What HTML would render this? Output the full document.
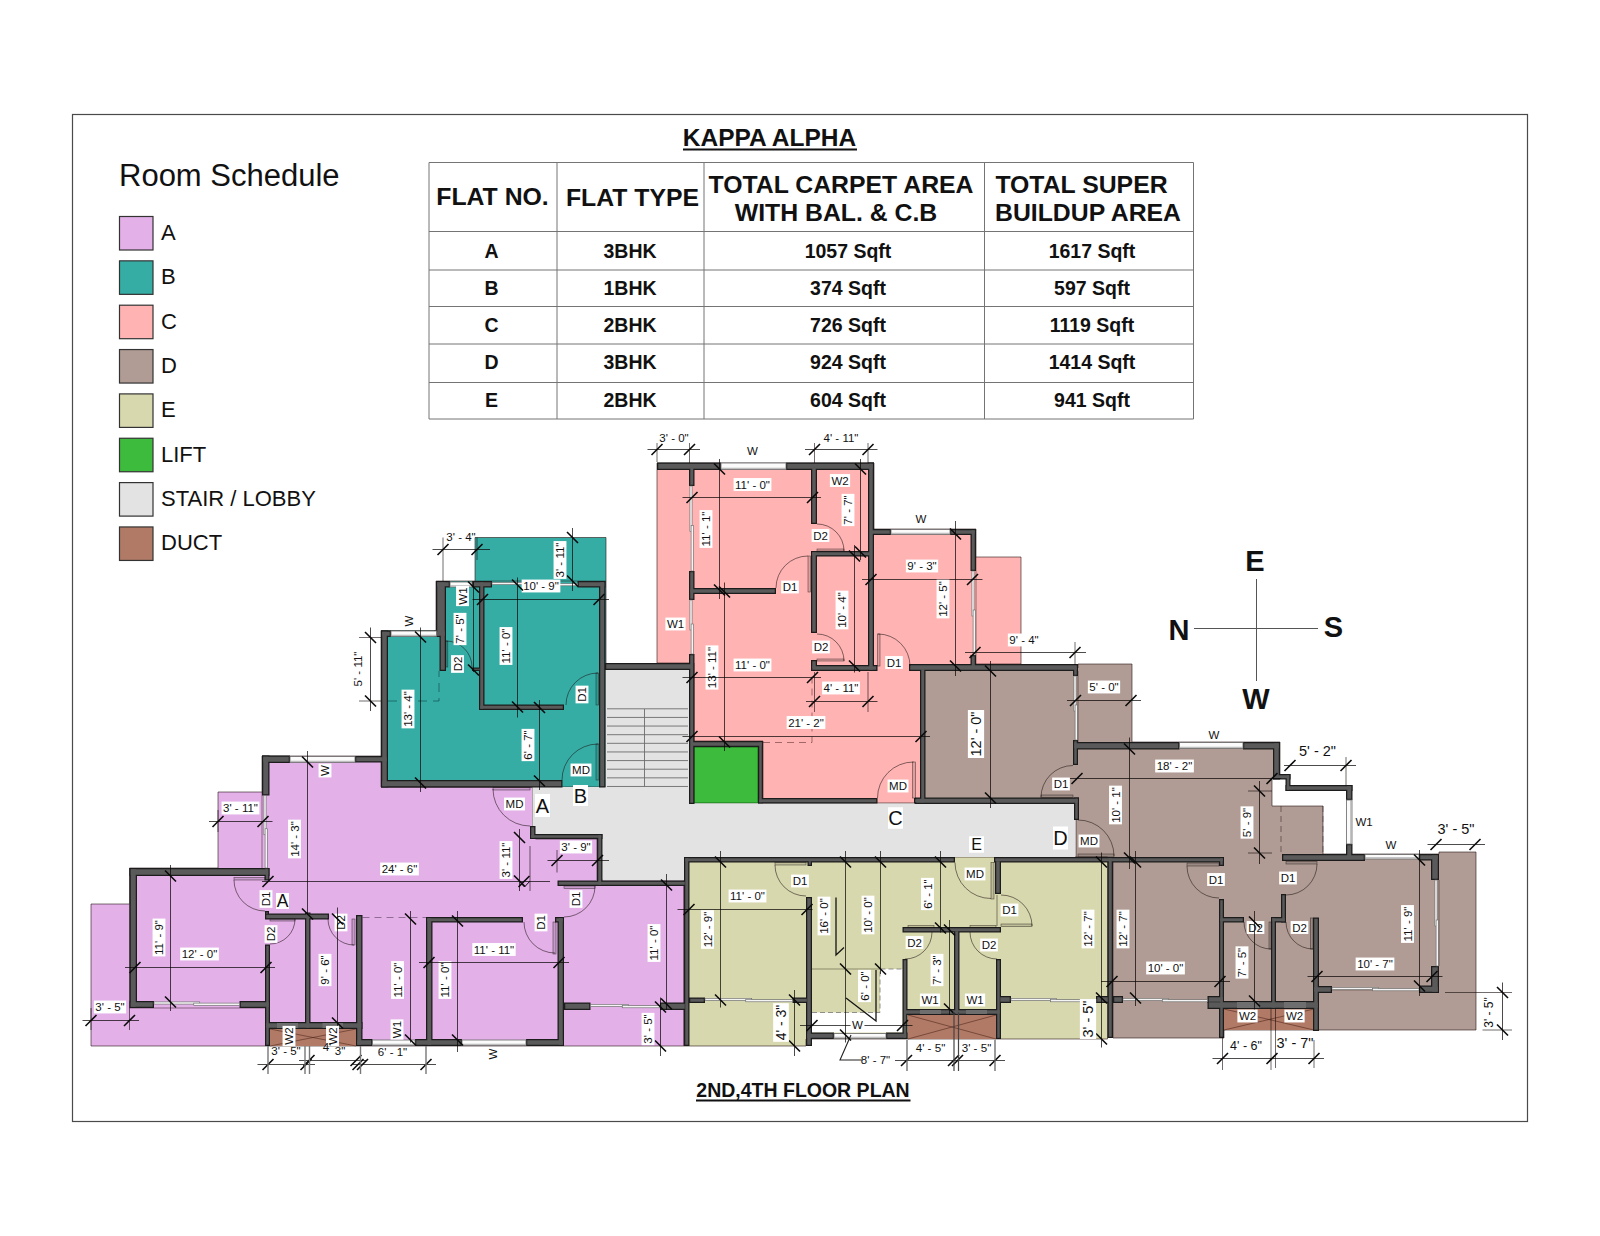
<!DOCTYPE html>
<html><head><meta charset="utf-8"><title>KAPPA ALPHA - 2ND,4TH FLOOR PLAN</title>
<style>
html,body{margin:0;padding:0;background:#fff}
body{width:1600px;height:1236px;overflow:hidden}
svg{display:block;font-family:"Liberation Sans",Arial,sans-serif}
</style></head><body>
<svg width="1600" height="1236" viewBox="0 0 1600 1236">
<rect x="72.5" y="114.5" width="1455" height="1007" fill="none" stroke="#4a4a4a" stroke-width="1.2"/>
<text x="119" y="186.1" font-size="31" text-anchor="start" fill="#111">Room Schedule</text>
<rect x="119.5" y="216.5" width="33.5" height="33.5" fill="#E3B0E8" stroke="#333" stroke-width="1.2"/>
<text x="161" y="239.88" font-size="22" text-anchor="start" fill="#111">A</text>
<rect x="119.5" y="260.85" width="33.5" height="33.5" fill="#35ADA5" stroke="#333" stroke-width="1.2"/>
<text x="161" y="284.23" font-size="22" text-anchor="start" fill="#111">B</text>
<rect x="119.5" y="305.2" width="33.5" height="33.5" fill="#FFB3B3" stroke="#333" stroke-width="1.2"/>
<text x="161" y="328.58" font-size="22" text-anchor="start" fill="#111">C</text>
<rect x="119.5" y="349.55" width="33.5" height="33.5" fill="#B09C94" stroke="#333" stroke-width="1.2"/>
<text x="161" y="372.93" font-size="22" text-anchor="start" fill="#111">D</text>
<rect x="119.5" y="393.9" width="33.5" height="33.5" fill="#D8D8AE" stroke="#333" stroke-width="1.2"/>
<text x="161" y="417.28" font-size="22" text-anchor="start" fill="#111">E</text>
<rect x="119.5" y="438.25" width="33.5" height="33.5" fill="#3DBB3D" stroke="#333" stroke-width="1.2"/>
<text x="161" y="461.63" font-size="22" text-anchor="start" fill="#111">LIFT</text>
<rect x="119.5" y="482.6" width="33.5" height="33.5" fill="#E3E3E3" stroke="#333" stroke-width="1.2"/>
<text x="161" y="505.98" font-size="22" text-anchor="start" fill="#111">STAIR / LOBBY</text>
<rect x="119.5" y="526.95" width="33.5" height="33.5" fill="#B07A66" stroke="#333" stroke-width="1.2"/>
<text x="161" y="550.33" font-size="22" text-anchor="start" fill="#111">DUCT</text>
<text x="769.5" y="146.27" font-size="24.5" text-anchor="middle" font-weight="bold" fill="#111">KAPPA ALPHA</text>
<line x1="683" y1="149.5" x2="857" y2="149.5" stroke="#111" stroke-width="2"/>
<text x="803" y="1096.98" font-size="19.5" text-anchor="middle" font-weight="bold" fill="#111">2ND,4TH FLOOR PLAN</text>
<line x1="696" y1="1100.5" x2="910.5" y2="1100.5" stroke="#111" stroke-width="1.8"/>
<line x1="429" y1="162.5" x2="429" y2="419" stroke="#747474" stroke-width="1"/>
<line x1="557" y1="162.5" x2="557" y2="419" stroke="#747474" stroke-width="1"/>
<line x1="704" y1="162.5" x2="704" y2="419" stroke="#747474" stroke-width="1"/>
<line x1="984.5" y1="162.5" x2="984.5" y2="419" stroke="#747474" stroke-width="1"/>
<line x1="1193.5" y1="162.5" x2="1193.5" y2="419" stroke="#747474" stroke-width="1"/>
<line x1="429" y1="162.5" x2="1193.5" y2="162.5" stroke="#747474" stroke-width="1"/>
<line x1="429" y1="231.5" x2="1193.5" y2="231.5" stroke="#747474" stroke-width="1"/>
<line x1="429" y1="270" x2="1193.5" y2="270" stroke="#747474" stroke-width="1"/>
<line x1="429" y1="306.5" x2="1193.5" y2="306.5" stroke="#747474" stroke-width="1"/>
<line x1="429" y1="344" x2="1193.5" y2="344" stroke="#747474" stroke-width="1"/>
<line x1="429" y1="382.5" x2="1193.5" y2="382.5" stroke="#747474" stroke-width="1"/>
<line x1="429" y1="419" x2="1193.5" y2="419" stroke="#747474" stroke-width="1"/>
<text x="492.5" y="205.38" font-size="24.8" text-anchor="middle" font-weight="bold" fill="#111">FLAT NO.</text>
<text x="632.5" y="205.88" font-size="24.8" text-anchor="middle" font-weight="bold" fill="#111">FLAT TYPE</text>
<text x="841" y="192.88" font-size="24.8" text-anchor="middle" font-weight="bold" fill="#111">TOTAL CARPET AREA</text>
<text x="836" y="221.38" font-size="24.8" text-anchor="middle" font-weight="bold" fill="#111">WITH BAL. &amp; C.B</text>
<text x="1081.5" y="192.88" font-size="24.8" text-anchor="middle" font-weight="bold" fill="#111">TOTAL SUPER</text>
<text x="1088" y="221.38" font-size="24.8" text-anchor="middle" font-weight="bold" fill="#111">BUILDUP AREA</text>
<text x="491.5" y="257.98" font-size="19.5" text-anchor="middle" font-weight="bold" fill="#111">A</text>
<text x="630" y="257.98" font-size="19.5" text-anchor="middle" font-weight="bold" fill="#111">3BHK</text>
<text x="848" y="257.98" font-size="19.5" text-anchor="middle" font-weight="bold" fill="#111">1057 Sqft</text>
<text x="1092" y="257.98" font-size="19.5" text-anchor="middle" font-weight="bold" fill="#111">1617 Sqft</text>
<text x="491.5" y="294.98" font-size="19.5" text-anchor="middle" font-weight="bold" fill="#111">B</text>
<text x="630" y="294.98" font-size="19.5" text-anchor="middle" font-weight="bold" fill="#111">1BHK</text>
<text x="848" y="294.98" font-size="19.5" text-anchor="middle" font-weight="bold" fill="#111">374 Sqft</text>
<text x="1092" y="294.98" font-size="19.5" text-anchor="middle" font-weight="bold" fill="#111">597 Sqft</text>
<text x="491.5" y="331.98" font-size="19.5" text-anchor="middle" font-weight="bold" fill="#111">C</text>
<text x="630" y="331.98" font-size="19.5" text-anchor="middle" font-weight="bold" fill="#111">2BHK</text>
<text x="848" y="331.98" font-size="19.5" text-anchor="middle" font-weight="bold" fill="#111">726 Sqft</text>
<text x="1092" y="331.98" font-size="19.5" text-anchor="middle" font-weight="bold" fill="#111">1119 Sqft</text>
<text x="491.5" y="369.48" font-size="19.5" text-anchor="middle" font-weight="bold" fill="#111">D</text>
<text x="630" y="369.48" font-size="19.5" text-anchor="middle" font-weight="bold" fill="#111">3BHK</text>
<text x="848" y="369.48" font-size="19.5" text-anchor="middle" font-weight="bold" fill="#111">924 Sqft</text>
<text x="1092" y="369.48" font-size="19.5" text-anchor="middle" font-weight="bold" fill="#111">1414 Sqft</text>
<text x="491.5" y="406.98" font-size="19.5" text-anchor="middle" font-weight="bold" fill="#111">E</text>
<text x="630" y="406.98" font-size="19.5" text-anchor="middle" font-weight="bold" fill="#111">2BHK</text>
<text x="848" y="406.98" font-size="19.5" text-anchor="middle" font-weight="bold" fill="#111">604 Sqft</text>
<text x="1092" y="406.98" font-size="19.5" text-anchor="middle" font-weight="bold" fill="#111">941 Sqft</text>
<line x1="1256.5" y1="579" x2="1256.5" y2="681" stroke="#555" stroke-width="1"/>
<line x1="1194" y1="628.5" x2="1318" y2="628.5" stroke="#555" stroke-width="1"/>
<text x="1255" y="571.38" font-size="29" text-anchor="middle" font-weight="bold" fill="#111">E</text>
<text x="1179" y="639.88" font-size="29" text-anchor="middle" font-weight="bold" fill="#111">N</text>
<text x="1256" y="709.38" font-size="29" text-anchor="middle" font-weight="bold" fill="#111">W</text>
<text x="1333.5" y="637.38" font-size="29" text-anchor="middle" font-weight="bold" fill="#111">S</text>
<polygon points="262,756 388,756 388,787 532.5,787 532.5,826 535.5,839 597,839 597,880 684,880 684,1046 91,1046 91,904 129.5,904 129.5,868 218,868 218,792 262,792" fill="#E3B0E8" stroke="rgba(40,20,20,0.6)" stroke-width="1"/>
<polygon points="475,537.5 606,537.5 606,787 381,787 381,630.5 436,630.5 436,581 475,581" fill="#35ADA5" stroke="rgba(40,20,20,0.6)" stroke-width="1"/>
<polygon points="657,463 874,463 874,529 976,529 976,557 1021,557 1021,664 976,664 976,668 921,668 921,803 763,803 763,741 694,741 694,663 657,663" fill="#FFB3B3" stroke="rgba(40,20,20,0.6)" stroke-width="1"/>
<polygon points="921,668 1078,668 1078,664 1132,664 1132,742 1280,742 1280,778 1272,778 1272,806 1323,806 1323,854 1439,854 1439,852 1476,852 1476,1030 1224,1030 1224,1038 1113,1038 1113,862 1076,862 1076,800 921,800" fill="#B09C94" stroke="rgba(40,20,20,0.6)" stroke-width="1"/>
<polygon points="684,857 1107.5,857 1107.5,1039 806,1039 806,1046 684,1046" fill="#D8D8AE" stroke="rgba(40,20,20,0.6)" stroke-width="1"/>
<polygon points="605.5,668 689,668 689,804 1075,804 1075,857 684,857 684,880.5 602.5,880.5 602.5,836 532.5,836 532.5,787 605.5,787" fill="#E3E3E3" stroke="none" stroke-width="1"/>
<rect x="694" y="747" width="64" height="56" fill="#3DBB3D" stroke="rgba(0,60,0,0.6)" stroke-width="1"/>
<rect x="270" y="1029" width="86" height="17" fill="#B07A66" stroke="none" stroke-width="1"/>
<rect x="908" y="1015" width="88" height="24" fill="#B07A66" stroke="none" stroke-width="1"/>
<rect x="1224" y="1009" width="90" height="21" fill="#B07A66" stroke="none" stroke-width="1"/>
<line x1="270" y1="1029" x2="356" y2="1046" stroke="rgba(60,20,10,0.6)" stroke-width="0.8"/>
<line x1="270" y1="1046" x2="356" y2="1029" stroke="rgba(60,20,10,0.6)" stroke-width="0.8"/>
<line x1="908" y1="1015" x2="996" y2="1039" stroke="rgba(60,20,10,0.6)" stroke-width="0.8"/>
<line x1="908" y1="1039" x2="996" y2="1015" stroke="rgba(60,20,10,0.6)" stroke-width="0.8"/>
<line x1="1224" y1="1009" x2="1314" y2="1030" stroke="rgba(60,20,10,0.6)" stroke-width="0.8"/>
<line x1="1224" y1="1030" x2="1314" y2="1009" stroke="rgba(60,20,10,0.6)" stroke-width="0.8"/>
<rect x="812" y="1012.5" width="90.5" height="20" fill="#fff" stroke="none" stroke-width="1"/>
<rect x="880" y="969" width="22.5" height="44" fill="#fff" stroke="none" stroke-width="1"/>
<polyline points="812,1012.5 880,1012.5 880,969 902.5,969" fill="none" stroke="#777" stroke-width="0.8" stroke-dasharray="5 3"/>
<line x1="812" y1="969" x2="880" y2="969" stroke="rgba(40,40,20,0.55)" stroke-width="0.8"/>
<line x1="1281" y1="806" x2="1281" y2="854" stroke="rgba(40,20,20,0.6)" stroke-width="0.8" stroke-dasharray="6 4"/>
<line x1="1323" y1="806" x2="1323" y2="854" stroke="rgba(40,20,20,0.5)" stroke-width="0.8" stroke-dasharray="6 4"/>
<line x1="475" y1="581" x2="606" y2="581" stroke="rgba(40,20,20,0.6)" stroke-width="0.8"/>
<line x1="976" y1="557" x2="976" y2="664" stroke="rgba(40,20,20,0.6)" stroke-width="0.8"/>
<line x1="1078" y1="671" x2="1078" y2="742" stroke="rgba(40,20,20,0.6)" stroke-width="0.8"/>
<line x1="1439" y1="880" x2="1439" y2="966" stroke="rgba(40,20,20,0.6)" stroke-width="0.8"/>
<line x1="262" y1="792" x2="262" y2="868" stroke="rgba(40,20,20,0.6)" stroke-width="0.8"/>
<line x1="129.5" y1="904" x2="129.5" y2="1008" stroke="rgba(40,20,20,0.6)" stroke-width="0.8"/>
<line x1="129.5" y1="1008" x2="265" y2="1008" stroke="rgba(40,20,20,0.6)" stroke-width="0.8"/>
<line x1="564" y1="1006" x2="684" y2="1006" stroke="rgba(40,20,20,0.6)" stroke-width="0.6"/>
<line x1="689" y1="1000" x2="806" y2="1000" stroke="rgba(40,20,20,0.6)" stroke-width="0.6"/>
<line x1="1001" y1="1000" x2="1107.5" y2="1000" stroke="rgba(40,20,20,0.6)" stroke-width="0.6"/>
<line x1="1113" y1="1000" x2="1219" y2="1000" stroke="rgba(40,20,20,0.6)" stroke-width="0.6"/>
<line x1="1319" y1="990" x2="1431" y2="990" stroke="rgba(40,20,20,0.6)" stroke-width="0.6"/>
<line x1="607" y1="708.8" x2="688" y2="708.8" stroke="#6c6c6c" stroke-width="0.9"/>
<line x1="607" y1="717.43" x2="688" y2="717.43" stroke="#6c6c6c" stroke-width="0.9"/>
<line x1="607" y1="726.06" x2="688" y2="726.06" stroke="#6c6c6c" stroke-width="0.9"/>
<line x1="607" y1="734.69" x2="688" y2="734.69" stroke="#6c6c6c" stroke-width="0.9"/>
<line x1="607" y1="743.32" x2="688" y2="743.32" stroke="#6c6c6c" stroke-width="0.9"/>
<line x1="607" y1="751.95" x2="688" y2="751.95" stroke="#6c6c6c" stroke-width="0.9"/>
<line x1="607" y1="760.58" x2="688" y2="760.58" stroke="#6c6c6c" stroke-width="0.9"/>
<line x1="607" y1="769.21" x2="688" y2="769.21" stroke="#6c6c6c" stroke-width="0.9"/>
<line x1="607" y1="777.84" x2="688" y2="777.84" stroke="#6c6c6c" stroke-width="0.9"/>
<line x1="607" y1="786.47" x2="688" y2="786.47" stroke="#6c6c6c" stroke-width="0.9"/>
<line x1="644.5" y1="709" x2="644.5" y2="786.4" stroke="#6c6c6c" stroke-width="0.9"/>
<rect x="657" y="462.5" width="64" height="7.5" fill="#1c1c1c" stroke="none" stroke-width="1"/>
<rect x="786" y="462.5" width="88" height="7.5" fill="#1c1c1c" stroke="none" stroke-width="1"/>
<rect x="868" y="462.5" width="6" height="208.5" fill="#1c1c1c" stroke="none" stroke-width="1"/>
<rect x="689" y="466" width="5.5" height="20" fill="#1c1c1c" stroke="none" stroke-width="1"/>
<rect x="811" y="466" width="6" height="58" fill="#1c1c1c" stroke="none" stroke-width="1"/>
<rect x="811" y="551" width="61" height="5.5" fill="#1c1c1c" stroke="none" stroke-width="1"/>
<rect x="811" y="551" width="6" height="82" fill="#1c1c1c" stroke="none" stroke-width="1"/>
<rect x="689" y="588" width="87" height="6" fill="#1c1c1c" stroke="none" stroke-width="1"/>
<rect x="689" y="571" width="5.5" height="29" fill="#1c1c1c" stroke="none" stroke-width="1"/>
<rect x="811" y="665" width="66.5" height="6" fill="#1c1c1c" stroke="none" stroke-width="1"/>
<rect x="811" y="660" width="6" height="9" fill="#1c1c1c" stroke="none" stroke-width="1"/>
<rect x="689" y="654" width="5.5" height="150" fill="#1c1c1c" stroke="none" stroke-width="1"/>
<rect x="870" y="529" width="21" height="6" fill="#1c1c1c" stroke="none" stroke-width="1"/>
<rect x="950" y="529" width="26" height="6" fill="#1c1c1c" stroke="none" stroke-width="1"/>
<rect x="970.5" y="529" width="5.5" height="42" fill="#1c1c1c" stroke="none" stroke-width="1"/>
<rect x="970.5" y="655" width="5.5" height="13" fill="#1c1c1c" stroke="none" stroke-width="1"/>
<rect x="909" y="664" width="169" height="7" fill="#1c1c1c" stroke="none" stroke-width="1"/>
<rect x="1073" y="665" width="5" height="11" fill="#1c1c1c" stroke="none" stroke-width="1"/>
<rect x="690" y="741" width="73" height="6" fill="#1c1c1c" stroke="none" stroke-width="1"/>
<rect x="758" y="741" width="5" height="62.5" fill="#1c1c1c" stroke="none" stroke-width="1"/>
<rect x="758" y="798" width="119.5" height="5.5" fill="#1c1c1c" stroke="none" stroke-width="1"/>
<rect x="914" y="798" width="11" height="5.5" fill="#1c1c1c" stroke="none" stroke-width="1"/>
<rect x="605" y="663" width="89" height="7" fill="#1c1c1c" stroke="none" stroke-width="1"/>
<rect x="920" y="668" width="5.5" height="135.5" fill="#1c1c1c" stroke="none" stroke-width="1"/>
<rect x="915" y="797.5" width="164" height="6.5" fill="#1c1c1c" stroke="none" stroke-width="1"/>
<rect x="1074" y="797.5" width="5" height="22.5" fill="#1c1c1c" stroke="none" stroke-width="1"/>
<rect x="1073" y="742" width="106.5" height="7.5" fill="#1c1c1c" stroke="none" stroke-width="1"/>
<rect x="1073" y="740" width="5" height="25" fill="#1c1c1c" stroke="none" stroke-width="1"/>
<rect x="1243" y="742" width="37" height="7.5" fill="#1c1c1c" stroke="none" stroke-width="1"/>
<rect x="1273" y="742" width="7" height="37.5" fill="#1c1c1c" stroke="none" stroke-width="1"/>
<rect x="1273" y="774" width="17.5" height="5.5" fill="#1c1c1c" stroke="none" stroke-width="1"/>
<rect x="1285.5" y="774" width="5" height="17" fill="#1c1c1c" stroke="none" stroke-width="1"/>
<rect x="1285.5" y="785" width="67" height="6" fill="#1c1c1c" stroke="none" stroke-width="1"/>
<rect x="1346" y="785" width="6.5" height="15" fill="#1c1c1c" stroke="none" stroke-width="1"/>
<rect x="1346" y="844" width="6.5" height="14" fill="#1c1c1c" stroke="none" stroke-width="1"/>
<rect x="1282" y="854" width="83" height="7" fill="#1c1c1c" stroke="none" stroke-width="1"/>
<rect x="1419" y="854" width="20" height="6.5" fill="#1c1c1c" stroke="none" stroke-width="1"/>
<rect x="1431" y="854" width="8" height="26" fill="#1c1c1c" stroke="none" stroke-width="1"/>
<rect x="1431" y="966" width="8" height="27" fill="#1c1c1c" stroke="none" stroke-width="1"/>
<rect x="1419" y="985.5" width="20" height="7.5" fill="#1c1c1c" stroke="none" stroke-width="1"/>
<rect x="1313" y="986" width="19" height="7" fill="#1c1c1c" stroke="none" stroke-width="1"/>
<rect x="1313" y="917.5" width="6" height="113.5" fill="#1c1c1c" stroke="none" stroke-width="1"/>
<rect x="684" y="857" width="271" height="5.5" fill="#1c1c1c" stroke="none" stroke-width="1"/>
<rect x="994" y="857" width="230" height="5.5" fill="#1c1c1c" stroke="none" stroke-width="1"/>
<rect x="1219" y="857" width="5" height="9" fill="#1c1c1c" stroke="none" stroke-width="1"/>
<rect x="1107.5" y="857" width="5.5" height="181" fill="#1c1c1c" stroke="none" stroke-width="1"/>
<rect x="1113" y="996" width="10" height="7" fill="#1c1c1c" stroke="none" stroke-width="1"/>
<rect x="1207.5" y="996" width="16.5" height="7" fill="#1c1c1c" stroke="none" stroke-width="1"/>
<rect x="1219" y="899" width="5" height="139" fill="#1c1c1c" stroke="none" stroke-width="1"/>
<rect x="1219" y="917" width="25" height="5.5" fill="#1c1c1c" stroke="none" stroke-width="1"/>
<rect x="1271" y="917" width="5" height="92" fill="#1c1c1c" stroke="none" stroke-width="1"/>
<rect x="1271" y="917" width="15" height="5.5" fill="#1c1c1c" stroke="none" stroke-width="1"/>
<rect x="1281" y="894" width="5" height="28.5" fill="#1c1c1c" stroke="none" stroke-width="1"/>
<rect x="1207.5" y="1001" width="111.5" height="8" fill="#1c1c1c" stroke="none" stroke-width="1"/>
<rect x="684" y="857" width="5.5" height="189" fill="#1c1c1c" stroke="none" stroke-width="1"/>
<rect x="806" y="897" width="6" height="149" fill="#1c1c1c" stroke="none" stroke-width="1"/>
<rect x="807.5" y="860" width="4.5" height="6" fill="#1c1c1c" stroke="none" stroke-width="1"/>
<rect x="689" y="997.5" width="16" height="5.5" fill="#1c1c1c" stroke="none" stroke-width="1"/>
<rect x="792.5" y="997.5" width="15.5" height="5.5" fill="#1c1c1c" stroke="none" stroke-width="1"/>
<rect x="806" y="1032.5" width="28" height="6.5" fill="#1c1c1c" stroke="none" stroke-width="1"/>
<rect x="886" y="1032.5" width="21.5" height="6.5" fill="#1c1c1c" stroke="none" stroke-width="1"/>
<rect x="902.5" y="959" width="5" height="80" fill="#1c1c1c" stroke="none" stroke-width="1"/>
<rect x="902.5" y="927" width="98.5" height="5.5" fill="#1c1c1c" stroke="none" stroke-width="1"/>
<rect x="995" y="860" width="6" height="34" fill="#1c1c1c" stroke="none" stroke-width="1"/>
<rect x="954" y="930" width="5.5" height="85" fill="#1c1c1c" stroke="none" stroke-width="1"/>
<rect x="996" y="959" width="5" height="80" fill="#1c1c1c" stroke="none" stroke-width="1"/>
<rect x="999" y="996" width="12" height="7" fill="#1c1c1c" stroke="none" stroke-width="1"/>
<rect x="903" y="1009" width="98" height="6" fill="#1c1c1c" stroke="none" stroke-width="1"/>
<rect x="1096" y="996" width="13" height="7" fill="#1c1c1c" stroke="none" stroke-width="1"/>
<rect x="436" y="581" width="14" height="6.5" fill="#1c1c1c" stroke="none" stroke-width="1"/>
<rect x="436" y="581" width="10" height="56" fill="#1c1c1c" stroke="none" stroke-width="1"/>
<rect x="439.5" y="630" width="6.5" height="41" fill="#1c1c1c" stroke="none" stroke-width="1"/>
<rect x="434" y="630.5" width="6" height="6.5" fill="#1c1c1c" stroke="none" stroke-width="1"/>
<rect x="472" y="581" width="20" height="6.5" fill="#1c1c1c" stroke="none" stroke-width="1"/>
<rect x="479" y="581" width="5.5" height="129" fill="#1c1c1c" stroke="none" stroke-width="1"/>
<rect x="479" y="704.5" width="85" height="5.5" fill="#1c1c1c" stroke="none" stroke-width="1"/>
<rect x="472" y="667.5" width="9" height="3.5" fill="#1c1c1c" stroke="none" stroke-width="1"/>
<rect x="577.5" y="581" width="28" height="6.5" fill="#1c1c1c" stroke="none" stroke-width="1"/>
<rect x="599" y="581" width="6.5" height="206.5" fill="#1c1c1c" stroke="none" stroke-width="1"/>
<rect x="381" y="630.5" width="7" height="157" fill="#1c1c1c" stroke="none" stroke-width="1"/>
<rect x="381" y="630.5" width="10" height="6.5" fill="#1c1c1c" stroke="none" stroke-width="1"/>
<rect x="381" y="780" width="181.5" height="7.5" fill="#1c1c1c" stroke="none" stroke-width="1"/>
<rect x="355" y="756" width="33" height="6.5" fill="#1c1c1c" stroke="none" stroke-width="1"/>
<rect x="262" y="755.5" width="28" height="7.5" fill="#1c1c1c" stroke="none" stroke-width="1"/>
<rect x="262" y="755.5" width="7.5" height="40" fill="#1c1c1c" stroke="none" stroke-width="1"/>
<rect x="129.5" y="868" width="140" height="8" fill="#1c1c1c" stroke="none" stroke-width="1"/>
<rect x="264.5" y="868" width="5" height="12.5" fill="#1c1c1c" stroke="none" stroke-width="1"/>
<rect x="129.5" y="868" width="7.5" height="140" fill="#1c1c1c" stroke="none" stroke-width="1"/>
<rect x="129.5" y="1001" width="24.5" height="7" fill="#1c1c1c" stroke="none" stroke-width="1"/>
<rect x="239.5" y="1001" width="30.5" height="7" fill="#1c1c1c" stroke="none" stroke-width="1"/>
<rect x="265" y="944.5" width="5" height="101.5" fill="#1c1c1c" stroke="none" stroke-width="1"/>
<rect x="265" y="913.5" width="64" height="6" fill="#1c1c1c" stroke="none" stroke-width="1"/>
<rect x="265" y="911" width="4" height="4" fill="#1c1c1c" stroke="none" stroke-width="1"/>
<rect x="305" y="912.5" width="5.5" height="116.5" fill="#1c1c1c" stroke="none" stroke-width="1"/>
<rect x="356" y="915" width="6.5" height="131" fill="#1c1c1c" stroke="none" stroke-width="1"/>
<rect x="356" y="1039" width="16.5" height="7" fill="#1c1c1c" stroke="none" stroke-width="1"/>
<rect x="415" y="1039" width="47" height="7" fill="#1c1c1c" stroke="none" stroke-width="1"/>
<rect x="426" y="917" width="6.5" height="129" fill="#1c1c1c" stroke="none" stroke-width="1"/>
<rect x="426" y="917" width="97" height="5.5" fill="#1c1c1c" stroke="none" stroke-width="1"/>
<rect x="557.5" y="917" width="6.5" height="129" fill="#1c1c1c" stroke="none" stroke-width="1"/>
<rect x="555" y="917" width="9" height="5.5" fill="#1c1c1c" stroke="none" stroke-width="1"/>
<rect x="526" y="1039" width="38" height="7" fill="#1c1c1c" stroke="none" stroke-width="1"/>
<rect x="564" y="1002.5" width="26.5" height="7.5" fill="#1c1c1c" stroke="none" stroke-width="1"/>
<rect x="660" y="1002.5" width="26" height="7.5" fill="#1c1c1c" stroke="none" stroke-width="1"/>
<rect x="265" y="1022" width="97.5" height="7" fill="#1c1c1c" stroke="none" stroke-width="1"/>
<rect x="530" y="826" width="5.5" height="13" fill="#1c1c1c" stroke="none" stroke-width="1"/>
<rect x="530" y="834" width="72.5" height="5" fill="#1c1c1c" stroke="none" stroke-width="1"/>
<rect x="597" y="834" width="5.5" height="52" fill="#1c1c1c" stroke="none" stroke-width="1"/>
<rect x="557.5" y="880.5" width="128.5" height="5.5" fill="#1c1c1c" stroke="none" stroke-width="1"/>
<rect x="658.25" y="463.75" width="61.5" height="5" fill="#5a5a5a" stroke="none" stroke-width="1"/>
<rect x="787.25" y="463.75" width="85.5" height="5" fill="#5a5a5a" stroke="none" stroke-width="1"/>
<rect x="869.25" y="463.75" width="3.5" height="206" fill="#5a5a5a" stroke="none" stroke-width="1"/>
<rect x="690.25" y="467.25" width="3" height="17.5" fill="#5a5a5a" stroke="none" stroke-width="1"/>
<rect x="812.25" y="467.25" width="3.5" height="55.5" fill="#5a5a5a" stroke="none" stroke-width="1"/>
<rect x="812.25" y="552.25" width="58.5" height="3" fill="#5a5a5a" stroke="none" stroke-width="1"/>
<rect x="812.25" y="552.25" width="3.5" height="79.5" fill="#5a5a5a" stroke="none" stroke-width="1"/>
<rect x="690.25" y="589.25" width="84.5" height="3.5" fill="#5a5a5a" stroke="none" stroke-width="1"/>
<rect x="690.25" y="572.25" width="3" height="26.5" fill="#5a5a5a" stroke="none" stroke-width="1"/>
<rect x="812.25" y="666.25" width="64" height="3.5" fill="#5a5a5a" stroke="none" stroke-width="1"/>
<rect x="812.25" y="661.25" width="3.5" height="6.5" fill="#5a5a5a" stroke="none" stroke-width="1"/>
<rect x="690.25" y="655.25" width="3" height="147.5" fill="#5a5a5a" stroke="none" stroke-width="1"/>
<rect x="871.25" y="530.25" width="18.5" height="3.5" fill="#5a5a5a" stroke="none" stroke-width="1"/>
<rect x="951.25" y="530.25" width="23.5" height="3.5" fill="#5a5a5a" stroke="none" stroke-width="1"/>
<rect x="971.75" y="530.25" width="3" height="39.5" fill="#5a5a5a" stroke="none" stroke-width="1"/>
<rect x="971.75" y="656.25" width="3" height="10.5" fill="#5a5a5a" stroke="none" stroke-width="1"/>
<rect x="910.25" y="665.25" width="166.5" height="4.5" fill="#5a5a5a" stroke="none" stroke-width="1"/>
<rect x="1074.25" y="666.25" width="2.5" height="8.5" fill="#5a5a5a" stroke="none" stroke-width="1"/>
<rect x="691.25" y="742.25" width="70.5" height="3.5" fill="#5a5a5a" stroke="none" stroke-width="1"/>
<rect x="759.25" y="742.25" width="2.5" height="60" fill="#5a5a5a" stroke="none" stroke-width="1"/>
<rect x="759.25" y="799.25" width="117" height="3" fill="#5a5a5a" stroke="none" stroke-width="1"/>
<rect x="915.25" y="799.25" width="8.5" height="3" fill="#5a5a5a" stroke="none" stroke-width="1"/>
<rect x="606.25" y="664.25" width="86.5" height="4.5" fill="#5a5a5a" stroke="none" stroke-width="1"/>
<rect x="921.25" y="669.25" width="3" height="133" fill="#5a5a5a" stroke="none" stroke-width="1"/>
<rect x="916.25" y="798.75" width="161.5" height="4" fill="#5a5a5a" stroke="none" stroke-width="1"/>
<rect x="1075.25" y="798.75" width="2.5" height="20" fill="#5a5a5a" stroke="none" stroke-width="1"/>
<rect x="1074.25" y="743.25" width="104" height="5" fill="#5a5a5a" stroke="none" stroke-width="1"/>
<rect x="1074.25" y="741.25" width="2.5" height="22.5" fill="#5a5a5a" stroke="none" stroke-width="1"/>
<rect x="1244.25" y="743.25" width="34.5" height="5" fill="#5a5a5a" stroke="none" stroke-width="1"/>
<rect x="1274.25" y="743.25" width="4.5" height="35" fill="#5a5a5a" stroke="none" stroke-width="1"/>
<rect x="1274.25" y="775.25" width="15" height="3" fill="#5a5a5a" stroke="none" stroke-width="1"/>
<rect x="1286.75" y="775.25" width="2.5" height="14.5" fill="#5a5a5a" stroke="none" stroke-width="1"/>
<rect x="1286.75" y="786.25" width="64.5" height="3.5" fill="#5a5a5a" stroke="none" stroke-width="1"/>
<rect x="1347.25" y="786.25" width="4" height="12.5" fill="#5a5a5a" stroke="none" stroke-width="1"/>
<rect x="1347.25" y="845.25" width="4" height="11.5" fill="#5a5a5a" stroke="none" stroke-width="1"/>
<rect x="1283.25" y="855.25" width="80.5" height="4.5" fill="#5a5a5a" stroke="none" stroke-width="1"/>
<rect x="1420.25" y="855.25" width="17.5" height="4" fill="#5a5a5a" stroke="none" stroke-width="1"/>
<rect x="1432.25" y="855.25" width="5.5" height="23.5" fill="#5a5a5a" stroke="none" stroke-width="1"/>
<rect x="1432.25" y="967.25" width="5.5" height="24.5" fill="#5a5a5a" stroke="none" stroke-width="1"/>
<rect x="1420.25" y="986.75" width="17.5" height="5" fill="#5a5a5a" stroke="none" stroke-width="1"/>
<rect x="1314.25" y="987.25" width="16.5" height="4.5" fill="#5a5a5a" stroke="none" stroke-width="1"/>
<rect x="1314.25" y="918.75" width="3.5" height="111" fill="#5a5a5a" stroke="none" stroke-width="1"/>
<rect x="685.25" y="858.25" width="268.5" height="3" fill="#5a5a5a" stroke="none" stroke-width="1"/>
<rect x="995.25" y="858.25" width="227.5" height="3" fill="#5a5a5a" stroke="none" stroke-width="1"/>
<rect x="1220.25" y="858.25" width="2.5" height="6.5" fill="#5a5a5a" stroke="none" stroke-width="1"/>
<rect x="1108.75" y="858.25" width="3" height="178.5" fill="#5a5a5a" stroke="none" stroke-width="1"/>
<rect x="1114.25" y="997.25" width="7.5" height="4.5" fill="#5a5a5a" stroke="none" stroke-width="1"/>
<rect x="1208.75" y="997.25" width="14" height="4.5" fill="#5a5a5a" stroke="none" stroke-width="1"/>
<rect x="1220.25" y="900.25" width="2.5" height="136.5" fill="#5a5a5a" stroke="none" stroke-width="1"/>
<rect x="1220.25" y="918.25" width="22.5" height="3" fill="#5a5a5a" stroke="none" stroke-width="1"/>
<rect x="1272.25" y="918.25" width="2.5" height="89.5" fill="#5a5a5a" stroke="none" stroke-width="1"/>
<rect x="1272.25" y="918.25" width="12.5" height="3" fill="#5a5a5a" stroke="none" stroke-width="1"/>
<rect x="1282.25" y="895.25" width="2.5" height="26" fill="#5a5a5a" stroke="none" stroke-width="1"/>
<rect x="1208.75" y="1002.25" width="109" height="5.5" fill="#5a5a5a" stroke="none" stroke-width="1"/>
<rect x="685.25" y="858.25" width="3" height="186.5" fill="#5a5a5a" stroke="none" stroke-width="1"/>
<rect x="807.25" y="898.25" width="3.5" height="146.5" fill="#5a5a5a" stroke="none" stroke-width="1"/>
<rect x="808.75" y="861.25" width="2" height="3.5" fill="#5a5a5a" stroke="none" stroke-width="1"/>
<rect x="690.25" y="998.75" width="13.5" height="3" fill="#5a5a5a" stroke="none" stroke-width="1"/>
<rect x="793.75" y="998.75" width="13" height="3" fill="#5a5a5a" stroke="none" stroke-width="1"/>
<rect x="807.25" y="1033.75" width="25.5" height="4" fill="#5a5a5a" stroke="none" stroke-width="1"/>
<rect x="887.25" y="1033.75" width="19" height="4" fill="#5a5a5a" stroke="none" stroke-width="1"/>
<rect x="903.75" y="960.25" width="2.5" height="77.5" fill="#5a5a5a" stroke="none" stroke-width="1"/>
<rect x="903.75" y="928.25" width="96" height="3" fill="#5a5a5a" stroke="none" stroke-width="1"/>
<rect x="996.25" y="861.25" width="3.5" height="31.5" fill="#5a5a5a" stroke="none" stroke-width="1"/>
<rect x="955.25" y="931.25" width="3" height="82.5" fill="#5a5a5a" stroke="none" stroke-width="1"/>
<rect x="997.25" y="960.25" width="2.5" height="77.5" fill="#5a5a5a" stroke="none" stroke-width="1"/>
<rect x="1000.25" y="997.25" width="9.5" height="4.5" fill="#5a5a5a" stroke="none" stroke-width="1"/>
<rect x="904.25" y="1010.25" width="95.5" height="3.5" fill="#5a5a5a" stroke="none" stroke-width="1"/>
<rect x="1097.25" y="997.25" width="10.5" height="4.5" fill="#5a5a5a" stroke="none" stroke-width="1"/>
<rect x="437.25" y="582.25" width="11.5" height="4" fill="#5a5a5a" stroke="none" stroke-width="1"/>
<rect x="437.25" y="582.25" width="7.5" height="53.5" fill="#5a5a5a" stroke="none" stroke-width="1"/>
<rect x="440.75" y="631.25" width="4" height="38.5" fill="#5a5a5a" stroke="none" stroke-width="1"/>
<rect x="435.25" y="631.75" width="3.5" height="4" fill="#5a5a5a" stroke="none" stroke-width="1"/>
<rect x="473.25" y="582.25" width="17.5" height="4" fill="#5a5a5a" stroke="none" stroke-width="1"/>
<rect x="480.25" y="582.25" width="3" height="126.5" fill="#5a5a5a" stroke="none" stroke-width="1"/>
<rect x="480.25" y="705.75" width="82.5" height="3" fill="#5a5a5a" stroke="none" stroke-width="1"/>
<rect x="473.25" y="668.75" width="6.5" height="1" fill="#5a5a5a" stroke="none" stroke-width="1"/>
<rect x="578.75" y="582.25" width="25.5" height="4" fill="#5a5a5a" stroke="none" stroke-width="1"/>
<rect x="600.25" y="582.25" width="4" height="204" fill="#5a5a5a" stroke="none" stroke-width="1"/>
<rect x="382.25" y="631.75" width="4.5" height="154.5" fill="#5a5a5a" stroke="none" stroke-width="1"/>
<rect x="382.25" y="631.75" width="7.5" height="4" fill="#5a5a5a" stroke="none" stroke-width="1"/>
<rect x="382.25" y="781.25" width="179" height="5" fill="#5a5a5a" stroke="none" stroke-width="1"/>
<rect x="356.25" y="757.25" width="30.5" height="4" fill="#5a5a5a" stroke="none" stroke-width="1"/>
<rect x="263.25" y="756.75" width="25.5" height="5" fill="#5a5a5a" stroke="none" stroke-width="1"/>
<rect x="263.25" y="756.75" width="5" height="37.5" fill="#5a5a5a" stroke="none" stroke-width="1"/>
<rect x="130.75" y="869.25" width="137.5" height="5.5" fill="#5a5a5a" stroke="none" stroke-width="1"/>
<rect x="265.75" y="869.25" width="2.5" height="10" fill="#5a5a5a" stroke="none" stroke-width="1"/>
<rect x="130.75" y="869.25" width="5" height="137.5" fill="#5a5a5a" stroke="none" stroke-width="1"/>
<rect x="130.75" y="1002.25" width="22" height="4.5" fill="#5a5a5a" stroke="none" stroke-width="1"/>
<rect x="240.75" y="1002.25" width="28" height="4.5" fill="#5a5a5a" stroke="none" stroke-width="1"/>
<rect x="266.25" y="945.75" width="2.5" height="99" fill="#5a5a5a" stroke="none" stroke-width="1"/>
<rect x="266.25" y="914.75" width="61.5" height="3.5" fill="#5a5a5a" stroke="none" stroke-width="1"/>
<rect x="266.25" y="912.25" width="1.5" height="1.5" fill="#5a5a5a" stroke="none" stroke-width="1"/>
<rect x="306.25" y="913.75" width="3" height="114" fill="#5a5a5a" stroke="none" stroke-width="1"/>
<rect x="357.25" y="916.25" width="4" height="128.5" fill="#5a5a5a" stroke="none" stroke-width="1"/>
<rect x="357.25" y="1040.25" width="14" height="4.5" fill="#5a5a5a" stroke="none" stroke-width="1"/>
<rect x="416.25" y="1040.25" width="44.5" height="4.5" fill="#5a5a5a" stroke="none" stroke-width="1"/>
<rect x="427.25" y="918.25" width="4" height="126.5" fill="#5a5a5a" stroke="none" stroke-width="1"/>
<rect x="427.25" y="918.25" width="94.5" height="3" fill="#5a5a5a" stroke="none" stroke-width="1"/>
<rect x="558.75" y="918.25" width="4" height="126.5" fill="#5a5a5a" stroke="none" stroke-width="1"/>
<rect x="556.25" y="918.25" width="6.5" height="3" fill="#5a5a5a" stroke="none" stroke-width="1"/>
<rect x="527.25" y="1040.25" width="35.5" height="4.5" fill="#5a5a5a" stroke="none" stroke-width="1"/>
<rect x="565.25" y="1003.75" width="24" height="5" fill="#5a5a5a" stroke="none" stroke-width="1"/>
<rect x="661.25" y="1003.75" width="23.5" height="5" fill="#5a5a5a" stroke="none" stroke-width="1"/>
<rect x="266.25" y="1023.25" width="95" height="4.5" fill="#5a5a5a" stroke="none" stroke-width="1"/>
<rect x="531.25" y="827.25" width="3" height="10.5" fill="#5a5a5a" stroke="none" stroke-width="1"/>
<rect x="531.25" y="835.25" width="70" height="2.5" fill="#5a5a5a" stroke="none" stroke-width="1"/>
<rect x="598.25" y="835.25" width="3" height="49.5" fill="#5a5a5a" stroke="none" stroke-width="1"/>
<rect x="558.75" y="881.75" width="126" height="3" fill="#5a5a5a" stroke="none" stroke-width="1"/>
<rect x="721" y="463" width="65" height="6.5" fill="#fbfbfb" stroke="#666" stroke-width="0.8"/>
<line x1="721" y1="468.3" x2="786" y2="468.3" stroke="#9a9a9a" stroke-width="0.8"/>
<rect x="891" y="529.5" width="59" height="5" fill="#fbfbfb" stroke="#666" stroke-width="0.8"/>
<line x1="891" y1="533.3" x2="950" y2="533.3" stroke="#9a9a9a" stroke-width="0.8"/>
<rect x="1179.5" y="742.5" width="63.5" height="6" fill="#fbfbfb" stroke="#666" stroke-width="0.8"/>
<line x1="1179.5" y1="747.3" x2="1243" y2="747.3" stroke="#9a9a9a" stroke-width="0.8"/>
<rect x="1365" y="854.5" width="54" height="4.5" fill="#fbfbfb" stroke="#666" stroke-width="0.8"/>
<line x1="1365" y1="857.8" x2="1419" y2="857.8" stroke="#9a9a9a" stroke-width="0.8"/>
<rect x="391" y="631" width="45.5" height="5.5" fill="#fbfbfb" stroke="#666" stroke-width="0.8"/>
<line x1="391" y1="635.3" x2="436.5" y2="635.3" stroke="#9a9a9a" stroke-width="0.8"/>
<rect x="290" y="756.5" width="65" height="6" fill="#fbfbfb" stroke="#666" stroke-width="0.8"/>
<line x1="290" y1="761.3" x2="355" y2="761.3" stroke="#9a9a9a" stroke-width="0.8"/>
<rect x="372.5" y="1040" width="42.5" height="5.5" fill="#fbfbfb" stroke="#666" stroke-width="0.8"/>
<line x1="372.5" y1="1044.3" x2="415" y2="1044.3" stroke="#9a9a9a" stroke-width="0.8"/>
<rect x="462" y="1040" width="64" height="5.5" fill="#fbfbfb" stroke="#666" stroke-width="0.8"/>
<line x1="462" y1="1044.3" x2="526" y2="1044.3" stroke="#9a9a9a" stroke-width="0.8"/>
<rect x="834" y="1033.5" width="52" height="5" fill="#fbfbfb" stroke="#666" stroke-width="0.8"/>
<line x1="834" y1="1037.3" x2="886" y2="1037.3" stroke="#9a9a9a" stroke-width="0.8"/>
<rect x="450" y="582" width="22" height="5" fill="#fbfbfb" stroke="#666" stroke-width="0.8"/>
<line x1="450" y1="585.8" x2="472" y2="585.8" stroke="#9a9a9a" stroke-width="0.8"/>
<rect x="1346.5" y="800" width="5.5" height="44" fill="#fbfbfb" stroke="#666" stroke-width="0.8"/>
<line x1="1350.8" y1="800" x2="1350.8" y2="844" stroke="#9a9a9a" stroke-width="0.8"/>
<rect x="492" y="582.4" width="45.75" height="2.2" fill="#f4f4f4" stroke="#666" stroke-width="0.6"/>
<rect x="531.75" y="583.6" width="45.75" height="2.2" fill="#f4f4f4" stroke="#666" stroke-width="0.6"/>
<rect x="154" y="1001.9" width="45.75" height="2.2" fill="#f4f4f4" stroke="#666" stroke-width="0.6"/>
<rect x="193.75" y="1003.1" width="45.75" height="2.2" fill="#f4f4f4" stroke="#666" stroke-width="0.6"/>
<rect x="590.5" y="1004.4" width="37.75" height="2.2" fill="#f4f4f4" stroke="#666" stroke-width="0.6"/>
<rect x="622.25" y="1005.6" width="37.75" height="2.2" fill="#f4f4f4" stroke="#666" stroke-width="0.6"/>
<rect x="705" y="998.4" width="46.75" height="2.2" fill="#f4f4f4" stroke="#666" stroke-width="0.6"/>
<rect x="745.75" y="999.6" width="46.75" height="2.2" fill="#f4f4f4" stroke="#666" stroke-width="0.6"/>
<rect x="1011" y="998.4" width="45.5" height="2.2" fill="#f4f4f4" stroke="#666" stroke-width="0.6"/>
<rect x="1050.5" y="999.6" width="45.5" height="2.2" fill="#f4f4f4" stroke="#666" stroke-width="0.6"/>
<rect x="1123" y="998.4" width="45.25" height="2.2" fill="#f4f4f4" stroke="#666" stroke-width="0.6"/>
<rect x="1162.25" y="999.6" width="45.25" height="2.2" fill="#f4f4f4" stroke="#666" stroke-width="0.6"/>
<rect x="1332" y="987.4" width="46.5" height="2.2" fill="#f4f4f4" stroke="#666" stroke-width="0.6"/>
<rect x="1372.5" y="988.6" width="46.5" height="2.2" fill="#f4f4f4" stroke="#666" stroke-width="0.6"/>
<rect x="263.9" y="795.5" width="2.2" height="39.25" fill="#f4f4f4" stroke="#666" stroke-width="0.6"/>
<rect x="265.1" y="828.75" width="2.2" height="39.25" fill="#f4f4f4" stroke="#666" stroke-width="0.6"/>
<rect x="689.9" y="486" width="2.2" height="45.5" fill="#f4f4f4" stroke="#666" stroke-width="0.6"/>
<rect x="691.1" y="525.5" width="2.2" height="45.5" fill="#f4f4f4" stroke="#666" stroke-width="0.6"/>
<rect x="689.9" y="600" width="2.2" height="30" fill="#f4f4f4" stroke="#666" stroke-width="0.6"/>
<rect x="691.1" y="624" width="2.2" height="30" fill="#f4f4f4" stroke="#666" stroke-width="0.6"/>
<rect x="971.9" y="571" width="2.2" height="45" fill="#f4f4f4" stroke="#666" stroke-width="0.6"/>
<rect x="973.1" y="610" width="2.2" height="45" fill="#f4f4f4" stroke="#666" stroke-width="0.6"/>
<rect x="1073.9" y="676" width="2.2" height="35" fill="#f4f4f4" stroke="#666" stroke-width="0.6"/>
<rect x="1075.1" y="705" width="2.2" height="35" fill="#f4f4f4" stroke="#666" stroke-width="0.6"/>
<rect x="1434.9" y="880" width="2.2" height="46" fill="#f4f4f4" stroke="#666" stroke-width="0.6"/>
<rect x="1436.1" y="920" width="2.2" height="46" fill="#f4f4f4" stroke="#666" stroke-width="0.6"/>
<rect x="1237" y="1002" width="22" height="6" fill="#6e6e6e" stroke="none" stroke-width="1"/>
<rect x="1284" y="1002" width="22" height="6" fill="#6e6e6e" stroke="none" stroke-width="1"/>
<rect x="920" y="1010" width="21" height="4" fill="#6e6e6e" stroke="none" stroke-width="1"/>
<rect x="966" y="1010" width="21" height="4" fill="#6e6e6e" stroke="none" stroke-width="1"/>
<rect x="277" y="1023" width="21" height="5" fill="#6e6e6e" stroke="none" stroke-width="1"/>
<rect x="322.5" y="1023" width="20.5" height="5" fill="#6e6e6e" stroke="none" stroke-width="1"/>
<path d="M817 524 A27 27 0 0 1 844 551" fill="none" stroke="rgba(30,20,20,0.7)" stroke-width="0.8"/>
<rect x="817" y="549" width="27" height="2" fill="rgba(0,0,0,0.12)" stroke="rgba(30,20,20,0.7)" stroke-width="0.6"/>
<path d="M776 588 A32 32 0 0 1 808 556" fill="none" stroke="rgba(30,20,20,0.7)" stroke-width="0.8"/>
<rect x="808" y="556" width="2.5" height="36" fill="rgba(0,0,0,0.12)" stroke="rgba(30,20,20,0.7)" stroke-width="0.6"/>
<path d="M817 634 A27 27 0 0 1 844 661" fill="none" stroke="rgba(30,20,20,0.7)" stroke-width="0.8"/>
<rect x="817" y="659" width="27" height="2" fill="rgba(0,0,0,0.12)" stroke="rgba(30,20,20,0.7)" stroke-width="0.6"/>
<path d="M878 634 A32 32 0 0 1 910 666" fill="none" stroke="rgba(30,20,20,0.7)" stroke-width="0.8"/>
<rect x="877.5" y="634" width="2.5" height="32" fill="rgba(0,0,0,0.12)" stroke="rgba(30,20,20,0.7)" stroke-width="0.6"/>
<path d="M913.5 762 A36 36 0 0 0 877.5 798" fill="none" stroke="rgba(30,20,20,0.7)" stroke-width="0.8"/>
<rect x="912.5" y="762" width="3" height="36" fill="rgba(0,0,0,0.12)" stroke="rgba(30,20,20,0.7)" stroke-width="0.6"/>
<path d="M1073 765.5 A32 32 0 0 0 1041 797.5" fill="none" stroke="rgba(30,20,20,0.7)" stroke-width="0.8"/>
<rect x="1041" y="795" width="32" height="2.5" fill="rgba(0,0,0,0.12)" stroke="rgba(30,20,20,0.7)" stroke-width="0.6"/>
<path d="M1078 820 A36 36 0 0 1 1114 856" fill="none" stroke="rgba(30,20,20,0.7)" stroke-width="0.8"/>
<rect x="1078" y="854" width="36" height="3" fill="rgba(0,0,0,0.12)" stroke="rgba(30,20,20,0.7)" stroke-width="0.6"/>
<path d="M1187 866 A32 32 0 0 0 1219 898" fill="none" stroke="rgba(30,20,20,0.7)" stroke-width="0.8"/>
<rect x="1187" y="863" width="32" height="3" fill="rgba(0,0,0,0.12)" stroke="rgba(30,20,20,0.7)" stroke-width="0.6"/>
<path d="M1317 864 A31 31 0 0 1 1286 895" fill="none" stroke="rgba(30,20,20,0.7)" stroke-width="0.8"/>
<rect x="1286" y="861.5" width="31" height="2.5" fill="rgba(0,0,0,0.12)" stroke="rgba(30,20,20,0.7)" stroke-width="0.6"/>
<path d="M1244 922 A27 27 0 0 0 1271 949" fill="none" stroke="rgba(30,20,20,0.7)" stroke-width="0.8"/>
<rect x="1269" y="922" width="2" height="27" fill="rgba(0,0,0,0.12)" stroke="rgba(30,20,20,0.7)" stroke-width="0.6"/>
<path d="M1286 922 A27 27 0 0 0 1313 949" fill="none" stroke="rgba(30,20,20,0.7)" stroke-width="0.8"/>
<rect x="1310.5" y="918" width="2.5" height="31" fill="rgba(0,0,0,0.12)" stroke="rgba(30,20,20,0.7)" stroke-width="0.6"/>
<path d="M775 865 A31 31 0 0 0 806 896" fill="none" stroke="rgba(30,20,20,0.7)" stroke-width="0.8"/>
<rect x="775" y="862.5" width="31" height="2.5" fill="rgba(0,0,0,0.12)" stroke="rgba(30,20,20,0.7)" stroke-width="0.6"/>
<path d="M955 862.5 A36 36 0 0 0 991 898.5" fill="none" stroke="rgba(30,20,20,0.7)" stroke-width="0.8"/>
<rect x="991" y="862.5" width="3" height="36.5" fill="rgba(0,0,0,0.12)" stroke="rgba(30,20,20,0.7)" stroke-width="0.6"/>
<path d="M1001 895 A31 31 0 0 1 1032 926" fill="none" stroke="rgba(30,20,20,0.7)" stroke-width="0.8"/>
<rect x="1001" y="924" width="31" height="2.5" fill="rgba(0,0,0,0.12)" stroke="rgba(30,20,20,0.7)" stroke-width="0.6"/>
<line x1="997" y1="895" x2="997" y2="926" stroke="rgba(30,20,20,0.7)" stroke-width="0.7"/>
<path d="M932 932 A27 27 0 0 1 905 959" fill="none" stroke="rgba(30,20,20,0.7)" stroke-width="0.8"/>
<rect x="908" y="925.5" width="26" height="2" fill="rgba(0,0,0,0.12)" stroke="rgba(30,20,20,0.7)" stroke-width="0.6"/>
<path d="M970 932 A27 27 0 0 0 997 959" fill="none" stroke="rgba(30,20,20,0.7)" stroke-width="0.8"/>
<rect x="970" y="925.5" width="26" height="2" fill="rgba(0,0,0,0.12)" stroke="rgba(30,20,20,0.7)" stroke-width="0.6"/>
<path d="M446 641 A26 26 0 0 1 472 667" fill="none" stroke="rgba(30,20,20,0.7)" stroke-width="0.8"/>
<rect x="446" y="641" width="1.8" height="26" fill="rgba(0,0,0,0.12)" stroke="rgba(30,20,20,0.7)" stroke-width="0.6"/>
<path d="M566 705 A32 32 0 0 1 598 673" fill="none" stroke="rgba(30,20,20,0.7)" stroke-width="0.8"/>
<rect x="596" y="673" width="2.5" height="32" fill="rgba(0,0,0,0.12)" stroke="rgba(30,20,20,0.7)" stroke-width="0.6"/>
<path d="M562 780 A36 36 0 0 1 598 744" fill="none" stroke="rgba(30,20,20,0.7)" stroke-width="0.8"/>
<rect x="596" y="744" width="3" height="36" fill="rgba(0,0,0,0.12)" stroke="rgba(30,20,20,0.7)" stroke-width="0.6"/>
<path d="M493 789 A37 37 0 0 0 530 826" fill="none" stroke="rgba(30,20,20,0.7)" stroke-width="0.8"/>
<rect x="493" y="787.5" width="37" height="2.5" fill="rgba(0,0,0,0.12)" stroke="rgba(30,20,20,0.7)" stroke-width="0.6"/>
<path d="M595 886 A31 31 0 0 1 564 917" fill="none" stroke="rgba(30,20,20,0.7)" stroke-width="0.8"/>
<rect x="564" y="886" width="31" height="2.5" fill="rgba(0,0,0,0.12)" stroke="rgba(30,20,20,0.7)" stroke-width="0.6"/>
<path d="M524 922 A31 31 0 0 0 555 953" fill="none" stroke="rgba(30,20,20,0.7)" stroke-width="0.8"/>
<rect x="553" y="922" width="3" height="32" fill="rgba(0,0,0,0.12)" stroke="rgba(30,20,20,0.7)" stroke-width="0.6"/>
<path d="M234 880 A31 31 0 0 0 265 911" fill="none" stroke="rgba(30,20,20,0.7)" stroke-width="0.8"/>
<rect x="234" y="877.5" width="31" height="2.5" fill="rgba(0,0,0,0.12)" stroke="rgba(30,20,20,0.7)" stroke-width="0.6"/>
<path d="M295 919 A25 25 0 0 1 270 944" fill="none" stroke="rgba(30,20,20,0.7)" stroke-width="0.8"/>
<rect x="270" y="919" width="25" height="2" fill="rgba(0,0,0,0.12)" stroke="rgba(30,20,20,0.7)" stroke-width="0.6"/>
<path d="M328 919 A26 26 0 0 0 354 945" fill="none" stroke="rgba(30,20,20,0.7)" stroke-width="0.8"/>
<rect x="352" y="919" width="3" height="26" fill="rgba(0,0,0,0.12)" stroke="rgba(30,20,20,0.7)" stroke-width="0.6"/>
<line x1="362.5" y1="917.5" x2="426" y2="917.5" stroke="rgba(40,20,40,0.55)" stroke-width="0.8" stroke-dasharray="7 5"/>
<polyline points="388,701 439,701 439,671" fill="none" stroke="rgba(0,40,40,0.55)" stroke-width="0.9" stroke-dasharray="9 6"/>
<polyline points="763,742.5 812,742.5 812,672" fill="none" stroke="rgba(60,20,20,0.6)" stroke-width="0.8" stroke-dasharray="7 5"/>
<polyline points="836,897.5 836,955 844,947.5" fill="none" stroke="#151515" stroke-width="1.3"/>
<polyline points="876,970 876,1021 846,998" fill="none" stroke="#151515" stroke-width="1.3"/>
<line x1="647.5" y1="449.5" x2="700" y2="449.5" stroke="rgba(10,5,5,0.72)" stroke-width="1"/>
<line x1="651.5" y1="455" x2="662.5" y2="444" stroke="#0a0a0a" stroke-width="1.6"/>
<line x1="684" y1="455" x2="695" y2="444" stroke="#0a0a0a" stroke-width="1.6"/>
<line x1="657" y1="443" x2="657" y2="462" stroke="rgba(20,10,10,0.6)" stroke-width="1"/>
<line x1="689.5" y1="443" x2="689.5" y2="463" stroke="rgba(20,10,10,0.6)" stroke-width="1"/>
<text x="674" y="441.62" font-size="11.5" text-anchor="middle" fill="#111">3' - 0"</text>
<line x1="432.5" y1="549.5" x2="490" y2="549.5" stroke="rgba(10,5,5,0.72)" stroke-width="1"/>
<line x1="437.5" y1="555" x2="448.5" y2="544" stroke="#0a0a0a" stroke-width="1.6"/>
<line x1="471.5" y1="555" x2="482.5" y2="544" stroke="#0a0a0a" stroke-width="1.6"/>
<line x1="443" y1="537.5" x2="443" y2="581" stroke="rgba(20,10,10,0.6)" stroke-width="1"/>
<line x1="477" y1="537.5" x2="477" y2="560" stroke="rgba(20,10,10,0.6)" stroke-width="1"/>
<text x="461" y="541.12" font-size="11.5" text-anchor="middle" fill="#111">3' - 4"</text>
<line x1="572.5" y1="528" x2="572.5" y2="591" stroke="rgba(10,5,5,0.72)" stroke-width="1"/>
<line x1="567" y1="532" x2="578" y2="543" stroke="#0a0a0a" stroke-width="1.6"/>
<line x1="567" y1="575.5" x2="578" y2="586.5" stroke="#0a0a0a" stroke-width="1.6"/>
<rect x="553.56" y="541.08" width="12.88" height="37.83" fill="#fff" stroke="none" stroke-width="1"/>
<text x="560" y="564.12" font-size="11.5" text-anchor="middle" fill="#111" transform="rotate(-90 560 560)">3' - 11"</text>
<line x1="472.5" y1="599.5" x2="609" y2="599.5" stroke="rgba(10,5,5,0.72)" stroke-width="1"/>
<line x1="477" y1="605" x2="488" y2="594" stroke="#0a0a0a" stroke-width="1.6"/>
<line x1="593.5" y1="605" x2="604.5" y2="594" stroke="#0a0a0a" stroke-width="1.6"/>
<rect x="521.66" y="579.56" width="38.69" height="12.88" fill="#fff" stroke="none" stroke-width="1"/>
<text x="541" y="590.12" font-size="11.5" text-anchor="middle" fill="#111">10' - 9"</text>
<line x1="517.5" y1="577.5" x2="517.5" y2="717.5" stroke="rgba(10,5,5,0.72)" stroke-width="1"/>
<line x1="512" y1="579.5" x2="523" y2="590.5" stroke="#0a0a0a" stroke-width="1.6"/>
<line x1="512" y1="701.5" x2="523" y2="712.5" stroke="#0a0a0a" stroke-width="1.6"/>
<rect x="499.56" y="627.08" width="12.88" height="37.83" fill="#fff" stroke="none" stroke-width="1"/>
<text x="506" y="650.12" font-size="11.5" text-anchor="middle" fill="#111" transform="rotate(-90 506 646)">11' - 0"</text>
<line x1="473.5" y1="582" x2="473.5" y2="672" stroke="rgba(10,5,5,0.72)" stroke-width="1"/>
<line x1="468" y1="581.5" x2="479" y2="592.5" stroke="#0a0a0a" stroke-width="1.6"/>
<line x1="468" y1="664.5" x2="479" y2="675.5" stroke="#0a0a0a" stroke-width="1.6"/>
<rect x="453.56" y="612.86" width="12.88" height="32.29" fill="#fff" stroke="none" stroke-width="1"/>
<text x="460" y="633.12" font-size="11.5" text-anchor="middle" fill="#111" transform="rotate(-90 460 629)">7' - 5"</text>
<rect x="456.06" y="585.88" width="12.88" height="20.25" fill="#fff" stroke="none" stroke-width="1"/>
<text x="462.5" y="600.12" font-size="11.5" text-anchor="middle" fill="#111" transform="rotate(-90 462.5 596)">W1</text>
<line x1="370.5" y1="627.5" x2="370.5" y2="711" stroke="rgba(10,5,5,0.72)" stroke-width="1"/>
<line x1="365" y1="632" x2="376" y2="643" stroke="#0a0a0a" stroke-width="1.6"/>
<line x1="365" y1="695.5" x2="376" y2="706.5" stroke="#0a0a0a" stroke-width="1.6"/>
<line x1="359" y1="637.5" x2="381" y2="637.5" stroke="rgba(20,10,10,0.6)" stroke-width="1"/>
<line x1="359" y1="701" x2="381" y2="701" stroke="rgba(20,10,10,0.6)" stroke-width="1"/>
<text x="357.5" y="673.12" font-size="11.5" text-anchor="middle" fill="#111" transform="rotate(-90 357.5 669)">5' - 11"</text>
<line x1="420.5" y1="627.5" x2="420.5" y2="792" stroke="rgba(10,5,5,0.72)" stroke-width="1"/>
<line x1="415" y1="631.5" x2="426" y2="642.5" stroke="#0a0a0a" stroke-width="1.6"/>
<line x1="415" y1="777.5" x2="426" y2="788.5" stroke="#0a0a0a" stroke-width="1.6"/>
<rect x="401.56" y="689.66" width="12.88" height="38.69" fill="#fff" stroke="none" stroke-width="1"/>
<text x="408" y="713.12" font-size="11.5" text-anchor="middle" fill="#111" transform="rotate(-90 408 709)">13' - 4"</text>
<text x="409" y="625.12" font-size="11.5" text-anchor="middle" fill="#111" transform="rotate(-90 409 621)">W</text>
<rect x="451.06" y="655.15" width="12.88" height="17.7" fill="#fff" stroke="none" stroke-width="1"/>
<text x="457.5" y="668.12" font-size="11.5" text-anchor="middle" fill="#111" transform="rotate(-90 457.5 664)">D2</text>
<rect x="575.56" y="685.65" width="12.88" height="17.7" fill="#fff" stroke="none" stroke-width="1"/>
<text x="582" y="698.62" font-size="11.5" text-anchor="middle" fill="#111" transform="rotate(-90 582 694.5)">D1</text>
<line x1="539.5" y1="700" x2="539.5" y2="790" stroke="rgba(10,5,5,0.72)" stroke-width="1"/>
<line x1="534" y1="702" x2="545" y2="713" stroke="#0a0a0a" stroke-width="1.6"/>
<line x1="534" y1="775.5" x2="545" y2="786.5" stroke="#0a0a0a" stroke-width="1.6"/>
<rect x="521.56" y="728.86" width="12.88" height="32.29" fill="#fff" stroke="none" stroke-width="1"/>
<text x="528" y="749.12" font-size="11.5" text-anchor="middle" fill="#111" transform="rotate(-90 528 745)">6' - 7"</text>
<rect x="570.56" y="763.56" width="20.89" height="12.88" fill="#fff" stroke="none" stroke-width="1"/>
<text x="581" y="774.12" font-size="11.5" text-anchor="middle" fill="#111">MD</text>
<rect x="504.06" y="797.56" width="20.89" height="12.88" fill="#fff" stroke="none" stroke-width="1"/>
<text x="514.5" y="808.12" font-size="11.5" text-anchor="middle" fill="#111">MD</text>
<text x="752.5" y="455.12" font-size="11.5" text-anchor="middle" fill="#111">W</text>
<line x1="805" y1="449.5" x2="877.5" y2="449.5" stroke="rgba(10,5,5,0.72)" stroke-width="1"/>
<line x1="809" y1="455" x2="820" y2="444" stroke="#0a0a0a" stroke-width="1.6"/>
<line x1="862.5" y1="455" x2="873.5" y2="444" stroke="#0a0a0a" stroke-width="1.6"/>
<line x1="814.5" y1="443" x2="814.5" y2="463" stroke="rgba(20,10,10,0.6)" stroke-width="1"/>
<line x1="868" y1="443" x2="868" y2="463" stroke="rgba(20,10,10,0.6)" stroke-width="1"/>
<text x="841" y="441.62" font-size="11.5" text-anchor="middle" fill="#111">4' - 11"</text>
<line x1="682.5" y1="497.5" x2="821" y2="497.5" stroke="rgba(10,5,5,0.72)" stroke-width="1"/>
<line x1="686.5" y1="503" x2="697.5" y2="492" stroke="#0a0a0a" stroke-width="1.6"/>
<line x1="807" y1="503" x2="818" y2="492" stroke="#0a0a0a" stroke-width="1.6"/>
<rect x="733.58" y="478.06" width="37.83" height="12.88" fill="#fff" stroke="none" stroke-width="1"/>
<text x="752.5" y="488.62" font-size="11.5" text-anchor="middle" fill="#111">11' - 0"</text>
<line x1="719.5" y1="459" x2="719.5" y2="599" stroke="rgba(10,5,5,0.72)" stroke-width="1"/>
<line x1="714" y1="463.5" x2="725" y2="474.5" stroke="#0a0a0a" stroke-width="1.6"/>
<line x1="714" y1="584.5" x2="725" y2="595.5" stroke="#0a0a0a" stroke-width="1.6"/>
<rect x="699.56" y="510.08" width="12.88" height="37.83" fill="#fff" stroke="none" stroke-width="1"/>
<text x="706" y="533.12" font-size="11.5" text-anchor="middle" fill="#111" transform="rotate(-90 706 529)">11' - 1"</text>
<rect x="829.88" y="474.06" width="20.25" height="12.88" fill="#fff" stroke="none" stroke-width="1"/>
<text x="840" y="484.62" font-size="11.5" text-anchor="middle" fill="#111">W2</text>
<line x1="860.5" y1="459" x2="860.5" y2="560" stroke="rgba(10,5,5,0.72)" stroke-width="1"/>
<line x1="855" y1="463.5" x2="866" y2="474.5" stroke="#0a0a0a" stroke-width="1.6"/>
<line x1="855" y1="546.5" x2="866" y2="557.5" stroke="#0a0a0a" stroke-width="1.6"/>
<rect x="841.56" y="493.86" width="12.88" height="32.29" fill="#fff" stroke="none" stroke-width="1"/>
<text x="848" y="514.12" font-size="11.5" text-anchor="middle" fill="#111" transform="rotate(-90 848 510)">7' - 7"</text>
<rect x="811.65" y="529.06" width="17.7" height="12.88" fill="#fff" stroke="none" stroke-width="1"/>
<text x="820.5" y="539.62" font-size="11.5" text-anchor="middle" fill="#111">D2</text>
<rect x="781.15" y="580.56" width="17.7" height="12.88" fill="#fff" stroke="none" stroke-width="1"/>
<text x="790" y="591.12" font-size="11.5" text-anchor="middle" fill="#111">D1</text>
<line x1="854.5" y1="545" x2="854.5" y2="672.5" stroke="rgba(10,5,5,0.72)" stroke-width="1"/>
<line x1="849" y1="550.5" x2="860" y2="561.5" stroke="#0a0a0a" stroke-width="1.6"/>
<line x1="849" y1="660.5" x2="860" y2="671.5" stroke="#0a0a0a" stroke-width="1.6"/>
<rect x="835.56" y="590.66" width="12.88" height="38.69" fill="#fff" stroke="none" stroke-width="1"/>
<text x="842" y="614.12" font-size="11.5" text-anchor="middle" fill="#111" transform="rotate(-90 842 610)">10' - 4"</text>
<text x="921" y="523.12" font-size="11.5" text-anchor="middle" fill="#111">W</text>
<line x1="862" y1="579.5" x2="982.5" y2="579.5" stroke="rgba(10,5,5,0.72)" stroke-width="1"/>
<line x1="865.5" y1="585" x2="876.5" y2="574" stroke="#0a0a0a" stroke-width="1.6"/>
<line x1="967" y1="585" x2="978" y2="574" stroke="#0a0a0a" stroke-width="1.6"/>
<rect x="905.86" y="559.56" width="32.29" height="12.88" fill="#fff" stroke="none" stroke-width="1"/>
<text x="922" y="570.12" font-size="11.5" text-anchor="middle" fill="#111">9' - 3"</text>
<line x1="955.5" y1="521" x2="955.5" y2="676" stroke="rgba(10,5,5,0.72)" stroke-width="1"/>
<line x1="950" y1="528.5" x2="961" y2="539.5" stroke="#0a0a0a" stroke-width="1.6"/>
<line x1="950" y1="660.5" x2="961" y2="671.5" stroke="#0a0a0a" stroke-width="1.6"/>
<rect x="936.56" y="579.66" width="12.88" height="38.69" fill="#fff" stroke="none" stroke-width="1"/>
<text x="943" y="603.12" font-size="11.5" text-anchor="middle" fill="#111" transform="rotate(-90 943 599)">12' - 5"</text>
<rect x="665.38" y="617.56" width="20.25" height="12.88" fill="#fff" stroke="none" stroke-width="1"/>
<text x="675.5" y="628.12" font-size="11.5" text-anchor="middle" fill="#111">W1</text>
<rect x="812.15" y="640.56" width="17.7" height="12.88" fill="#fff" stroke="none" stroke-width="1"/>
<text x="821" y="651.12" font-size="11.5" text-anchor="middle" fill="#111">D2</text>
<rect x="885.15" y="656.06" width="17.7" height="12.88" fill="#fff" stroke="none" stroke-width="1"/>
<text x="894" y="666.62" font-size="11.5" text-anchor="middle" fill="#111">D1</text>
<line x1="724.5" y1="582.5" x2="724.5" y2="751" stroke="rgba(10,5,5,0.72)" stroke-width="1"/>
<line x1="719" y1="586.5" x2="730" y2="597.5" stroke="#0a0a0a" stroke-width="1.6"/>
<line x1="719" y1="736.5" x2="730" y2="747.5" stroke="#0a0a0a" stroke-width="1.6"/>
<rect x="705.56" y="645.39" width="12.88" height="44.23" fill="#fff" stroke="none" stroke-width="1"/>
<text x="712" y="671.62" font-size="11.5" text-anchor="middle" fill="#111" transform="rotate(-90 712 667.5)">13' - 11"</text>
<line x1="682.5" y1="677.5" x2="821" y2="677.5" stroke="rgba(10,5,5,0.72)" stroke-width="1"/>
<line x1="686.5" y1="683" x2="697.5" y2="672" stroke="#0a0a0a" stroke-width="1.6"/>
<line x1="807" y1="683" x2="818" y2="672" stroke="#0a0a0a" stroke-width="1.6"/>
<rect x="733.58" y="658.56" width="37.83" height="12.88" fill="#fff" stroke="none" stroke-width="1"/>
<text x="752.5" y="669.12" font-size="11.5" text-anchor="middle" fill="#111">11' - 0"</text>
<line x1="806" y1="701.5" x2="877.5" y2="701.5" stroke="rgba(10,5,5,0.72)" stroke-width="1"/>
<line x1="809" y1="707" x2="820" y2="696" stroke="#0a0a0a" stroke-width="1.6"/>
<line x1="862.5" y1="707" x2="873.5" y2="696" stroke="#0a0a0a" stroke-width="1.6"/>
<line x1="814.5" y1="672" x2="814.5" y2="712" stroke="rgba(20,10,10,0.6)" stroke-width="1"/>
<line x1="868" y1="672" x2="868" y2="712" stroke="rgba(20,10,10,0.6)" stroke-width="1"/>
<rect x="822.08" y="681.56" width="37.83" height="12.88" fill="#fff" stroke="none" stroke-width="1"/>
<text x="841" y="692.12" font-size="11.5" text-anchor="middle" fill="#111">4' - 11"</text>
<line x1="965" y1="652.5" x2="1086" y2="652.5" stroke="rgba(10,5,5,0.72)" stroke-width="1"/>
<line x1="969.5" y1="658" x2="980.5" y2="647" stroke="#0a0a0a" stroke-width="1.6"/>
<line x1="1069.5" y1="658" x2="1080.5" y2="647" stroke="#0a0a0a" stroke-width="1.6"/>
<line x1="1075" y1="642" x2="1075" y2="665" stroke="rgba(20,10,10,0.6)" stroke-width="1"/>
<rect x="1007.86" y="633.56" width="32.29" height="12.88" fill="#fff" stroke="none" stroke-width="1"/>
<text x="1024" y="644.12" font-size="11.5" text-anchor="middle" fill="#111">9' - 4"</text>
<line x1="682.5" y1="736.5" x2="930" y2="736.5" stroke="rgba(10,5,5,0.72)" stroke-width="1"/>
<line x1="686.5" y1="742" x2="697.5" y2="731" stroke="#0a0a0a" stroke-width="1.6"/>
<line x1="915.5" y1="742" x2="926.5" y2="731" stroke="#0a0a0a" stroke-width="1.6"/>
<rect x="786.66" y="716.06" width="38.69" height="12.88" fill="#fff" stroke="none" stroke-width="1"/>
<text x="806" y="726.62" font-size="11.5" text-anchor="middle" fill="#111">21' - 2"</text>
<rect x="887.56" y="779.56" width="20.89" height="12.88" fill="#fff" stroke="none" stroke-width="1"/>
<text x="898" y="790.12" font-size="11.5" text-anchor="middle" fill="#111">MD</text>
<line x1="1067" y1="700.5" x2="1141" y2="700.5" stroke="rgba(10,5,5,0.72)" stroke-width="1"/>
<line x1="1070" y1="706" x2="1081" y2="695" stroke="#0a0a0a" stroke-width="1.6"/>
<line x1="1125.5" y1="706" x2="1136.5" y2="695" stroke="#0a0a0a" stroke-width="1.6"/>
<rect x="1087.86" y="680.56" width="32.29" height="12.88" fill="#fff" stroke="none" stroke-width="1"/>
<text x="1104" y="691.12" font-size="11.5" text-anchor="middle" fill="#111">5' - 0"</text>
<line x1="990.5" y1="661" x2="990.5" y2="808" stroke="rgba(10,5,5,0.72)" stroke-width="1"/>
<line x1="985" y1="665.5" x2="996" y2="676.5" stroke="#0a0a0a" stroke-width="1.6"/>
<line x1="985" y1="792.5" x2="996" y2="803.5" stroke="#0a0a0a" stroke-width="1.6"/>
<rect x="967.88" y="710" width="16.24" height="48" fill="#fff" stroke="none" stroke-width="1"/>
<text x="976" y="739.19" font-size="14.5" text-anchor="middle" fill="#111" transform="rotate(-90 976 734)">12' - 0"</text>
<text x="1214" y="739.12" font-size="11.5" text-anchor="middle" fill="#111">W</text>
<line x1="1070" y1="778.5" x2="1281" y2="778.5" stroke="rgba(10,5,5,0.72)" stroke-width="1"/>
<line x1="1071.5" y1="784" x2="1082.5" y2="773" stroke="#0a0a0a" stroke-width="1.6"/>
<line x1="1266.5" y1="784" x2="1277.5" y2="773" stroke="#0a0a0a" stroke-width="1.6"/>
<rect x="1155.16" y="759.56" width="38.69" height="12.88" fill="#fff" stroke="none" stroke-width="1"/>
<text x="1174.5" y="770.12" font-size="11.5" text-anchor="middle" fill="#111">18' - 2"</text>
<rect x="1052.15" y="777.56" width="17.7" height="12.88" fill="#fff" stroke="none" stroke-width="1"/>
<text x="1061" y="788.12" font-size="11.5" text-anchor="middle" fill="#111">D1</text>
<line x1="1129.5" y1="737.5" x2="1129.5" y2="869" stroke="rgba(10,5,5,0.72)" stroke-width="1"/>
<line x1="1124" y1="743.5" x2="1135" y2="754.5" stroke="#0a0a0a" stroke-width="1.6"/>
<line x1="1124" y1="852.5" x2="1135" y2="863.5" stroke="#0a0a0a" stroke-width="1.6"/>
<rect x="1109.06" y="785.66" width="12.88" height="38.69" fill="#fff" stroke="none" stroke-width="1"/>
<text x="1115.5" y="809.12" font-size="11.5" text-anchor="middle" fill="#111" transform="rotate(-90 1115.5 805)">10' - 1"</text>
<line x1="1284" y1="765.5" x2="1356" y2="765.5" stroke="rgba(10,5,5,0.72)" stroke-width="1"/>
<line x1="1284.5" y1="771" x2="1295.5" y2="760" stroke="#0a0a0a" stroke-width="1.6"/>
<line x1="1340.5" y1="771" x2="1351.5" y2="760" stroke="#0a0a0a" stroke-width="1.6"/>
<line x1="1346" y1="757" x2="1346" y2="785" stroke="rgba(20,10,10,0.6)" stroke-width="1"/>
<text x="1317.5" y="756.19" font-size="14.5" text-anchor="middle" fill="#111">5' - 2"</text>
<line x1="1259.5" y1="781" x2="1259.5" y2="864" stroke="rgba(10,5,5,0.72)" stroke-width="1"/>
<line x1="1254" y1="785.5" x2="1265" y2="796.5" stroke="#0a0a0a" stroke-width="1.6"/>
<line x1="1254" y1="847.5" x2="1265" y2="858.5" stroke="#0a0a0a" stroke-width="1.6"/>
<line x1="1248" y1="791" x2="1272" y2="791" stroke="rgba(20,10,10,0.6)" stroke-width="1"/>
<line x1="1248" y1="853" x2="1272" y2="853" stroke="rgba(20,10,10,0.6)" stroke-width="1"/>
<rect x="1240.56" y="806.36" width="12.88" height="32.29" fill="#fff" stroke="none" stroke-width="1"/>
<text x="1247" y="826.62" font-size="11.5" text-anchor="middle" fill="#111" transform="rotate(-90 1247 822.5)">5' - 9"</text>
<text x="1364" y="826.12" font-size="11.5" text-anchor="middle" fill="#111">W1</text>
<text x="1391" y="848.62" font-size="11.5" text-anchor="middle" fill="#111">W</text>
<line x1="1427.5" y1="844.5" x2="1485" y2="844.5" stroke="rgba(10,5,5,0.72)" stroke-width="1"/>
<line x1="1430.5" y1="850" x2="1441.5" y2="839" stroke="#0a0a0a" stroke-width="1.6"/>
<line x1="1469.5" y1="850" x2="1480.5" y2="839" stroke="#0a0a0a" stroke-width="1.6"/>
<text x="1456" y="834.19" font-size="14.5" text-anchor="middle" fill="#111">3' - 5"</text>
<rect x="1207.15" y="873.06" width="17.7" height="12.88" fill="#fff" stroke="none" stroke-width="1"/>
<text x="1216" y="883.62" font-size="11.5" text-anchor="middle" fill="#111">D1</text>
<rect x="1279.15" y="871.56" width="17.7" height="12.88" fill="#fff" stroke="none" stroke-width="1"/>
<text x="1288" y="882.12" font-size="11.5" text-anchor="middle" fill="#111">D1</text>
<rect x="1246.65" y="921.06" width="17.7" height="12.88" fill="#fff" stroke="none" stroke-width="1"/>
<text x="1255.5" y="931.62" font-size="11.5" text-anchor="middle" fill="#111">D2</text>
<rect x="1290.65" y="921.06" width="17.7" height="12.88" fill="#fff" stroke="none" stroke-width="1"/>
<text x="1299.5" y="931.62" font-size="11.5" text-anchor="middle" fill="#111">D2</text>
<line x1="1254.5" y1="911" x2="1254.5" y2="1010" stroke="rgba(10,5,5,0.72)" stroke-width="1"/>
<line x1="1249" y1="916.5" x2="1260" y2="927.5" stroke="#0a0a0a" stroke-width="1.6"/>
<line x1="1249" y1="995.5" x2="1260" y2="1006.5" stroke="#0a0a0a" stroke-width="1.6"/>
<rect x="1235.56" y="946.36" width="12.88" height="32.29" fill="#fff" stroke="none" stroke-width="1"/>
<text x="1242" y="966.62" font-size="11.5" text-anchor="middle" fill="#111" transform="rotate(-90 1242 962.5)">7' - 5"</text>
<line x1="1419.5" y1="850" x2="1419.5" y2="996" stroke="rgba(10,5,5,0.72)" stroke-width="1"/>
<line x1="1414" y1="854.5" x2="1425" y2="865.5" stroke="#0a0a0a" stroke-width="1.6"/>
<line x1="1414" y1="980.5" x2="1425" y2="991.5" stroke="#0a0a0a" stroke-width="1.6"/>
<rect x="1401.06" y="905.08" width="12.88" height="37.83" fill="#fff" stroke="none" stroke-width="1"/>
<text x="1407.5" y="928.12" font-size="11.5" text-anchor="middle" fill="#111" transform="rotate(-90 1407.5 924)">11' - 9"</text>
<line x1="1307.5" y1="976.5" x2="1442.5" y2="976.5" stroke="rgba(10,5,5,0.72)" stroke-width="1"/>
<line x1="1311.5" y1="982" x2="1322.5" y2="971" stroke="#0a0a0a" stroke-width="1.6"/>
<line x1="1426.5" y1="982" x2="1437.5" y2="971" stroke="#0a0a0a" stroke-width="1.6"/>
<rect x="1355.66" y="957.56" width="38.69" height="12.88" fill="#fff" stroke="none" stroke-width="1"/>
<text x="1375" y="968.12" font-size="11.5" text-anchor="middle" fill="#111">10' - 7"</text>
<rect x="1237.38" y="1009.56" width="20.25" height="12.88" fill="#fff" stroke="none" stroke-width="1"/>
<text x="1247.5" y="1020.12" font-size="11.5" text-anchor="middle" fill="#111">W2</text>
<rect x="1284.38" y="1009.56" width="20.25" height="12.88" fill="#fff" stroke="none" stroke-width="1"/>
<text x="1294.5" y="1020.12" font-size="11.5" text-anchor="middle" fill="#111">W2</text>
<line x1="1212.5" y1="1058.5" x2="1324" y2="1058.5" stroke="rgba(10,5,5,0.72)" stroke-width="1"/>
<line x1="1217" y1="1064" x2="1228" y2="1053" stroke="#0a0a0a" stroke-width="1.6"/>
<line x1="1266.5" y1="1064" x2="1277.5" y2="1053" stroke="#0a0a0a" stroke-width="1.6"/>
<line x1="1308.5" y1="1064" x2="1319.5" y2="1053" stroke="#0a0a0a" stroke-width="1.6"/>
<line x1="1222.5" y1="1037" x2="1222.5" y2="1070" stroke="rgba(20,10,10,0.6)" stroke-width="1"/>
<line x1="1271" y1="1009" x2="1271" y2="1070" stroke="rgba(20,10,10,0.6)" stroke-width="1"/>
<line x1="1275.5" y1="1009" x2="1275.5" y2="1068" stroke="rgba(20,10,10,0.6)" stroke-width="1"/>
<line x1="1314" y1="1040" x2="1314" y2="1068" stroke="rgba(20,10,10,0.6)" stroke-width="1"/>
<text x="1246" y="1049.97" font-size="12.5" text-anchor="middle" fill="#111">4' - 6"</text>
<text x="1295" y="1047.69" font-size="14.5" text-anchor="middle" fill="#111">3' - 7"</text>
<line x1="1502.5" y1="982.5" x2="1502.5" y2="1040" stroke="rgba(10,5,5,0.72)" stroke-width="1"/>
<line x1="1497" y1="987" x2="1508" y2="998" stroke="#0a0a0a" stroke-width="1.6"/>
<line x1="1497" y1="1024.5" x2="1508" y2="1035.5" stroke="#0a0a0a" stroke-width="1.6"/>
<line x1="1445" y1="992.5" x2="1512" y2="992.5" stroke="rgba(20,10,10,0.6)" stroke-width="1"/>
<line x1="1482.5" y1="1030" x2="1512" y2="1030" stroke="rgba(20,10,10,0.6)" stroke-width="1"/>
<text x="1489" y="1016.8" font-size="12" text-anchor="middle" fill="#111" transform="rotate(-90 1489 1012.5)">3' - 5"</text>
<rect x="1078.56" y="834.56" width="20.89" height="12.88" fill="#fff" stroke="none" stroke-width="1"/>
<text x="1089" y="845.12" font-size="11.5" text-anchor="middle" fill="#111">MD</text>
<line x1="1101" y1="981.5" x2="1230" y2="981.5" stroke="rgba(10,5,5,0.72)" stroke-width="1"/>
<line x1="1106.5" y1="987" x2="1117.5" y2="976" stroke="#0a0a0a" stroke-width="1.6"/>
<line x1="1214.5" y1="987" x2="1225.5" y2="976" stroke="#0a0a0a" stroke-width="1.6"/>
<rect x="1146.16" y="961.56" width="38.69" height="12.88" fill="#fff" stroke="none" stroke-width="1"/>
<text x="1165.5" y="972.12" font-size="11.5" text-anchor="middle" fill="#111">10' - 0"</text>
<line x1="1135.5" y1="851" x2="1135.5" y2="1006" stroke="rgba(10,5,5,0.72)" stroke-width="1"/>
<line x1="1130" y1="856.5" x2="1141" y2="867.5" stroke="#0a0a0a" stroke-width="1.6"/>
<line x1="1130" y1="992.5" x2="1141" y2="1003.5" stroke="#0a0a0a" stroke-width="1.6"/>
<rect x="1116.56" y="909.66" width="12.88" height="38.69" fill="#fff" stroke="none" stroke-width="1"/>
<text x="1123" y="933.12" font-size="11.5" text-anchor="middle" fill="#111" transform="rotate(-90 1123 929)">12' - 7"</text>
<line x1="1101.5" y1="852.5" x2="1101.5" y2="1047.5" stroke="rgba(10,5,5,0.72)" stroke-width="1"/>
<line x1="1096" y1="856.5" x2="1107" y2="867.5" stroke="#0a0a0a" stroke-width="1.6"/>
<line x1="1096" y1="992.5" x2="1107" y2="1003.5" stroke="#0a0a0a" stroke-width="1.6"/>
<line x1="1096" y1="1033.5" x2="1107" y2="1044.5" stroke="#0a0a0a" stroke-width="1.6"/>
<rect x="1081.56" y="909.66" width="12.88" height="38.69" fill="#fff" stroke="none" stroke-width="1"/>
<text x="1088" y="933.12" font-size="11.5" text-anchor="middle" fill="#111" transform="rotate(-90 1088 929)">12' - 7"</text>
<rect x="1079.88" y="999.03" width="16.24" height="39.93" fill="#fff" stroke="none" stroke-width="1"/>
<text x="1088" y="1024.19" font-size="14.5" text-anchor="middle" fill="#111" transform="rotate(-90 1088 1019)">3' - 5"</text>
<line x1="940.5" y1="851" x2="940.5" y2="932.5" stroke="rgba(10,5,5,0.72)" stroke-width="1"/>
<line x1="935" y1="856.5" x2="946" y2="867.5" stroke="#0a0a0a" stroke-width="1.6"/>
<line x1="935" y1="922.5" x2="946" y2="933.5" stroke="#0a0a0a" stroke-width="1.6"/>
<rect x="921.06" y="877.86" width="12.88" height="32.29" fill="#fff" stroke="none" stroke-width="1"/>
<text x="927.5" y="898.12" font-size="11.5" text-anchor="middle" fill="#111" transform="rotate(-90 927.5 894)">6' - 1"</text>
<rect x="964.56" y="867.56" width="20.89" height="12.88" fill="#fff" stroke="none" stroke-width="1"/>
<text x="975" y="878.12" font-size="11.5" text-anchor="middle" fill="#111">MD</text>
<rect x="1000.65" y="903.56" width="17.7" height="12.88" fill="#fff" stroke="none" stroke-width="1"/>
<text x="1009.5" y="914.12" font-size="11.5" text-anchor="middle" fill="#111">D1</text>
<rect x="905.65" y="936.06" width="17.7" height="12.88" fill="#fff" stroke="none" stroke-width="1"/>
<text x="914.5" y="946.62" font-size="11.5" text-anchor="middle" fill="#111">D2</text>
<rect x="980.15" y="938.56" width="17.7" height="12.88" fill="#fff" stroke="none" stroke-width="1"/>
<text x="989" y="949.12" font-size="11.5" text-anchor="middle" fill="#111">D2</text>
<line x1="949.5" y1="920" x2="949.5" y2="1015" stroke="rgba(10,5,5,0.72)" stroke-width="1"/>
<line x1="944" y1="924.5" x2="955" y2="935.5" stroke="#0a0a0a" stroke-width="1.6"/>
<line x1="944" y1="1003.5" x2="955" y2="1014.5" stroke="#0a0a0a" stroke-width="1.6"/>
<rect x="930.56" y="953.86" width="12.88" height="32.29" fill="#fff" stroke="none" stroke-width="1"/>
<text x="937" y="974.12" font-size="11.5" text-anchor="middle" fill="#111" transform="rotate(-90 937 970)">7' - 3"</text>
<rect x="919.88" y="993.56" width="20.25" height="12.88" fill="#fff" stroke="none" stroke-width="1"/>
<text x="930" y="1004.12" font-size="11.5" text-anchor="middle" fill="#111">W1</text>
<rect x="964.88" y="993.56" width="20.25" height="12.88" fill="#fff" stroke="none" stroke-width="1"/>
<text x="975" y="1004.12" font-size="11.5" text-anchor="middle" fill="#111">W1</text>
<line x1="895" y1="1060.5" x2="1005" y2="1060.5" stroke="rgba(10,5,5,0.72)" stroke-width="1"/>
<line x1="901" y1="1066" x2="912" y2="1055" stroke="#0a0a0a" stroke-width="1.6"/>
<line x1="948" y1="1066" x2="959" y2="1055" stroke="#0a0a0a" stroke-width="1.6"/>
<line x1="952" y1="1066" x2="963" y2="1055" stroke="#0a0a0a" stroke-width="1.6"/>
<line x1="989.5" y1="1066" x2="1000.5" y2="1055" stroke="#0a0a0a" stroke-width="1.6"/>
<line x1="907" y1="1040" x2="907" y2="1071" stroke="#666" stroke-width="1.3"/>
<line x1="954" y1="1012" x2="954" y2="1071" stroke="#444" stroke-width="1.2"/>
<line x1="958.5" y1="1012" x2="958.5" y2="1071" stroke="#444" stroke-width="1.2"/>
<line x1="995" y1="1040" x2="995" y2="1071" stroke="#666" stroke-width="1.3"/>
<text x="930.5" y="1051.85" font-size="11.6" text-anchor="middle" fill="#111">4' - 5"</text>
<text x="976.5" y="1051.85" font-size="11.6" text-anchor="middle" fill="#111">3' - 5"</text>
<rect x="791.15" y="874.56" width="17.7" height="12.88" fill="#fff" stroke="none" stroke-width="1"/>
<text x="800" y="885.12" font-size="11.5" text-anchor="middle" fill="#111">D1</text>
<line x1="677.5" y1="909.5" x2="812.5" y2="909.5" stroke="rgba(10,5,5,0.72)" stroke-width="1"/>
<line x1="683.5" y1="915" x2="694.5" y2="904" stroke="#0a0a0a" stroke-width="1.6"/>
<line x1="801.5" y1="915" x2="812.5" y2="904" stroke="#0a0a0a" stroke-width="1.6"/>
<rect x="728.58" y="889.56" width="37.83" height="12.88" fill="#fff" stroke="none" stroke-width="1"/>
<text x="747.5" y="900.12" font-size="11.5" text-anchor="middle" fill="#111">11' - 0"</text>
<line x1="720.5" y1="851" x2="720.5" y2="1007.5" stroke="rgba(10,5,5,0.72)" stroke-width="1"/>
<line x1="715" y1="856.5" x2="726" y2="867.5" stroke="#0a0a0a" stroke-width="1.6"/>
<line x1="715" y1="994.5" x2="726" y2="1005.5" stroke="#0a0a0a" stroke-width="1.6"/>
<rect x="701.06" y="910.16" width="12.88" height="38.69" fill="#fff" stroke="none" stroke-width="1"/>
<text x="707.5" y="933.62" font-size="11.5" text-anchor="middle" fill="#111" transform="rotate(-90 707.5 929.5)">12' - 9"</text>
<line x1="845.5" y1="851" x2="845.5" y2="1042.5" stroke="rgba(10,5,5,0.72)" stroke-width="1"/>
<line x1="840" y1="856.5" x2="851" y2="867.5" stroke="#0a0a0a" stroke-width="1.6"/>
<line x1="840" y1="963.5" x2="851" y2="974.5" stroke="#0a0a0a" stroke-width="1.6"/>
<line x1="840" y1="1029.5" x2="851" y2="1040.5" stroke="#0a0a0a" stroke-width="1.6"/>
<rect x="817.56" y="896.66" width="12.88" height="38.69" fill="#fff" stroke="none" stroke-width="1"/>
<text x="824" y="920.12" font-size="11.5" text-anchor="middle" fill="#111" transform="rotate(-90 824 916)">16' - 0"</text>
<line x1="880.5" y1="851" x2="880.5" y2="974" stroke="rgba(10,5,5,0.72)" stroke-width="1"/>
<line x1="875" y1="856.5" x2="886" y2="867.5" stroke="#0a0a0a" stroke-width="1.6"/>
<line x1="875" y1="963.5" x2="886" y2="974.5" stroke="#0a0a0a" stroke-width="1.6"/>
<rect x="861.56" y="895.66" width="12.88" height="38.69" fill="#fff" stroke="none" stroke-width="1"/>
<text x="868" y="919.12" font-size="11.5" text-anchor="middle" fill="#111" transform="rotate(-90 868 915)">10' - 0"</text>
<rect x="858.06" y="969.86" width="12.88" height="32.29" fill="#fff" stroke="none" stroke-width="1"/>
<text x="864.5" y="990.12" font-size="11.5" text-anchor="middle" fill="#111" transform="rotate(-90 864.5 986)">6' - 0"</text>
<line x1="794.5" y1="990" x2="794.5" y2="1056" stroke="rgba(10,5,5,0.72)" stroke-width="1"/>
<line x1="789" y1="994.5" x2="800" y2="1005.5" stroke="#0a0a0a" stroke-width="1.6"/>
<line x1="789" y1="1040.5" x2="800" y2="1051.5" stroke="#0a0a0a" stroke-width="1.6"/>
<rect x="773.16" y="1003.17" width="15.68" height="38.66" fill="#fff" stroke="none" stroke-width="1"/>
<text x="781" y="1027.51" font-size="14" text-anchor="middle" fill="#111" transform="rotate(-90 781 1022.5)">4' - 3"</text>
<line x1="800" y1="1025.5" x2="912.5" y2="1025.5" stroke="rgba(10,5,5,0.72)" stroke-width="1"/>
<line x1="806.5" y1="1031" x2="817.5" y2="1020" stroke="#0a0a0a" stroke-width="1.6"/>
<line x1="897" y1="1031" x2="908" y2="1020" stroke="#0a0a0a" stroke-width="1.6"/>
<rect x="850.57" y="1018.56" width="13.85" height="12.88" fill="#fff" stroke="none" stroke-width="1"/>
<text x="857.5" y="1029.12" font-size="11.5" text-anchor="middle" fill="#111">W</text>
<polyline points="851,1035 840,1060 862,1060" fill="none" stroke="rgba(10,10,10,0.9)" stroke-width="1.1"/>
<text x="875.5" y="1064.12" font-size="11.5" text-anchor="middle" fill="#111">8' - 7"</text>
<line x1="666.5" y1="874" x2="666.5" y2="1010" stroke="rgba(10,5,5,0.72)" stroke-width="1"/>
<line x1="661" y1="879.5" x2="672" y2="890.5" stroke="#0a0a0a" stroke-width="1.6"/>
<line x1="661" y1="998.5" x2="672" y2="1009.5" stroke="#0a0a0a" stroke-width="1.6"/>
<rect x="647.56" y="924.08" width="12.88" height="37.83" fill="#fff" stroke="none" stroke-width="1"/>
<text x="654" y="947.12" font-size="11.5" text-anchor="middle" fill="#111" transform="rotate(-90 654 943)">11' - 0"</text>
<line x1="660.5" y1="997.5" x2="660.5" y2="1056" stroke="rgba(10,5,5,0.72)" stroke-width="1"/>
<line x1="655" y1="1001.5" x2="666" y2="1012.5" stroke="#0a0a0a" stroke-width="1.6"/>
<line x1="655" y1="1040.5" x2="666" y2="1051.5" stroke="#0a0a0a" stroke-width="1.6"/>
<rect x="641.56" y="1012.86" width="12.88" height="32.29" fill="#fff" stroke="none" stroke-width="1"/>
<text x="648" y="1033.12" font-size="11.5" text-anchor="middle" fill="#111" transform="rotate(-90 648 1029)">3' - 5"</text>
<line x1="262" y1="881.5" x2="550" y2="881.5" stroke="rgba(10,5,5,0.72)" stroke-width="1"/>
<line x1="262.5" y1="887" x2="273.5" y2="876" stroke="#0a0a0a" stroke-width="1.6"/>
<line x1="518.5" y1="887" x2="529.5" y2="876" stroke="#0a0a0a" stroke-width="1.6"/>
<rect x="380.16" y="862.56" width="38.69" height="12.88" fill="#fff" stroke="none" stroke-width="1"/>
<text x="399.5" y="873.12" font-size="11.5" text-anchor="middle" fill="#111">24' - 6"</text>
<line x1="519.5" y1="829" x2="519.5" y2="891" stroke="rgba(10,5,5,0.72)" stroke-width="1"/>
<line x1="514" y1="832" x2="525" y2="843" stroke="#0a0a0a" stroke-width="1.6"/>
<line x1="514" y1="875.5" x2="525" y2="886.5" stroke="#0a0a0a" stroke-width="1.6"/>
<line x1="530" y1="846" x2="530" y2="891" stroke="rgba(20,10,10,0.6)" stroke-width="1"/>
<rect x="499.56" y="841.08" width="12.88" height="37.83" fill="#fff" stroke="none" stroke-width="1"/>
<text x="506" y="864.12" font-size="11.5" text-anchor="middle" fill="#111" transform="rotate(-90 506 860)">3' - 11"</text>
<polyline points="519,881 524.5,887 530,881" fill="none" stroke="#111" stroke-width="1"/>
<line x1="547.5" y1="860.5" x2="609" y2="860.5" stroke="rgba(10,5,5,0.72)" stroke-width="1"/>
<line x1="551.5" y1="866" x2="562.5" y2="855" stroke="#0a0a0a" stroke-width="1.6"/>
<line x1="592" y1="866" x2="603" y2="855" stroke="#0a0a0a" stroke-width="1.6"/>
<line x1="557" y1="850" x2="557" y2="872.5" stroke="rgba(20,10,10,0.6)" stroke-width="1"/>
<rect x="559.86" y="840.56" width="32.29" height="12.88" fill="#fff" stroke="none" stroke-width="1"/>
<text x="576" y="851.12" font-size="11.5" text-anchor="middle" fill="#111">3' - 9"</text>
<rect x="569.56" y="890.15" width="12.88" height="17.7" fill="#fff" stroke="none" stroke-width="1"/>
<text x="576" y="903.12" font-size="11.5" text-anchor="middle" fill="#111" transform="rotate(-90 576 899)">D1</text>
<rect x="534.56" y="913.65" width="12.88" height="17.7" fill="#fff" stroke="none" stroke-width="1"/>
<text x="541" y="926.62" font-size="11.5" text-anchor="middle" fill="#111" transform="rotate(-90 541 922.5)">D1</text>
<rect x="318.56" y="763.57" width="12.88" height="13.85" fill="#fff" stroke="none" stroke-width="1"/>
<text x="325" y="774.62" font-size="11.5" text-anchor="middle" fill="#111" transform="rotate(-90 325 770.5)">W</text>
<line x1="209" y1="821.5" x2="272.5" y2="821.5" stroke="rgba(10,5,5,0.72)" stroke-width="1"/>
<line x1="212.5" y1="827" x2="223.5" y2="816" stroke="#0a0a0a" stroke-width="1.6"/>
<line x1="257.5" y1="827" x2="268.5" y2="816" stroke="#0a0a0a" stroke-width="1.6"/>
<line x1="218" y1="810" x2="218" y2="832" stroke="rgba(20,10,10,0.6)" stroke-width="1"/>
<rect x="221.58" y="801.56" width="37.83" height="12.88" fill="#fff" stroke="none" stroke-width="1"/>
<text x="240.5" y="812.12" font-size="11.5" text-anchor="middle" fill="#111">3' - 11"</text>
<line x1="307.5" y1="751" x2="307.5" y2="915" stroke="rgba(10,5,5,0.72)" stroke-width="1"/>
<line x1="302" y1="756.5" x2="313" y2="767.5" stroke="#0a0a0a" stroke-width="1.6"/>
<line x1="302" y1="908.5" x2="313" y2="919.5" stroke="#0a0a0a" stroke-width="1.6"/>
<rect x="288.06" y="819.66" width="12.88" height="38.69" fill="#fff" stroke="none" stroke-width="1"/>
<text x="294.5" y="843.12" font-size="11.5" text-anchor="middle" fill="#111" transform="rotate(-90 294.5 839)">14' - 3"</text>
<rect x="259.56" y="890.15" width="12.88" height="17.7" fill="#fff" stroke="none" stroke-width="1"/>
<text x="266" y="903.12" font-size="11.5" text-anchor="middle" fill="#111" transform="rotate(-90 266 899)">D1</text>
<rect x="264.56" y="925.15" width="12.88" height="17.7" fill="#fff" stroke="none" stroke-width="1"/>
<text x="271" y="938.12" font-size="11.5" text-anchor="middle" fill="#111" transform="rotate(-90 271 934)">D2</text>
<rect x="334.56" y="913.65" width="12.88" height="17.7" fill="#fff" stroke="none" stroke-width="1"/>
<text x="341" y="926.62" font-size="11.5" text-anchor="middle" fill="#111" transform="rotate(-90 341 922.5)">D2</text>
<line x1="170.5" y1="865" x2="170.5" y2="1011" stroke="rgba(10,5,5,0.72)" stroke-width="1"/>
<line x1="165" y1="870.5" x2="176" y2="881.5" stroke="#0a0a0a" stroke-width="1.6"/>
<line x1="165" y1="996.5" x2="176" y2="1007.5" stroke="#0a0a0a" stroke-width="1.6"/>
<rect x="152.56" y="918.58" width="12.88" height="37.83" fill="#fff" stroke="none" stroke-width="1"/>
<text x="159" y="941.62" font-size="11.5" text-anchor="middle" fill="#111" transform="rotate(-90 159 937.5)">11' - 9"</text>
<line x1="125" y1="967.5" x2="275" y2="967.5" stroke="rgba(10,5,5,0.72)" stroke-width="1"/>
<line x1="129.5" y1="973" x2="140.5" y2="962" stroke="#0a0a0a" stroke-width="1.6"/>
<line x1="260.5" y1="973" x2="271.5" y2="962" stroke="#0a0a0a" stroke-width="1.6"/>
<rect x="180.16" y="947.56" width="38.69" height="12.88" fill="#fff" stroke="none" stroke-width="1"/>
<text x="199.5" y="958.12" font-size="11.5" text-anchor="middle" fill="#111">12' - 0"</text>
<line x1="337.5" y1="907.5" x2="337.5" y2="1030" stroke="rgba(10,5,5,0.72)" stroke-width="1"/>
<line x1="332" y1="913.5" x2="343" y2="924.5" stroke="#0a0a0a" stroke-width="1.6"/>
<line x1="332" y1="1017.5" x2="343" y2="1028.5" stroke="#0a0a0a" stroke-width="1.6"/>
<rect x="318.56" y="953.86" width="12.88" height="32.29" fill="#fff" stroke="none" stroke-width="1"/>
<text x="325" y="974.12" font-size="11.5" text-anchor="middle" fill="#111" transform="rotate(-90 325 970)">9' - 6"</text>
<line x1="410.5" y1="911" x2="410.5" y2="1042.5" stroke="rgba(10,5,5,0.72)" stroke-width="1"/>
<line x1="405" y1="913.5" x2="416" y2="924.5" stroke="#0a0a0a" stroke-width="1.6"/>
<line x1="405" y1="1034.5" x2="416" y2="1045.5" stroke="#0a0a0a" stroke-width="1.6"/>
<rect x="391.06" y="961.08" width="12.88" height="37.83" fill="#fff" stroke="none" stroke-width="1"/>
<text x="397.5" y="984.12" font-size="11.5" text-anchor="middle" fill="#111" transform="rotate(-90 397.5 980)">11' - 0"</text>
<line x1="457.5" y1="911" x2="457.5" y2="1052" stroke="rgba(10,5,5,0.72)" stroke-width="1"/>
<line x1="452" y1="915.5" x2="463" y2="926.5" stroke="#0a0a0a" stroke-width="1.6"/>
<line x1="452" y1="1034.5" x2="463" y2="1045.5" stroke="#0a0a0a" stroke-width="1.6"/>
<rect x="438.56" y="961.08" width="12.88" height="37.83" fill="#fff" stroke="none" stroke-width="1"/>
<text x="445" y="984.12" font-size="11.5" text-anchor="middle" fill="#111" transform="rotate(-90 445 980)">11' - 0"</text>
<line x1="419" y1="962.5" x2="569" y2="962.5" stroke="rgba(10,5,5,0.72)" stroke-width="1"/>
<line x1="423.5" y1="968" x2="434.5" y2="957" stroke="#0a0a0a" stroke-width="1.6"/>
<line x1="553.5" y1="968" x2="564.5" y2="957" stroke="#0a0a0a" stroke-width="1.6"/>
<rect x="472.31" y="943.06" width="43.37" height="12.88" fill="#fff" stroke="none" stroke-width="1"/>
<text x="494" y="953.62" font-size="11.5" text-anchor="middle" fill="#111">11' - 11"</text>
<line x1="82.5" y1="1020.5" x2="139" y2="1020.5" stroke="rgba(10,5,5,0.72)" stroke-width="1"/>
<line x1="85.5" y1="1026" x2="96.5" y2="1015" stroke="#0a0a0a" stroke-width="1.6"/>
<line x1="124" y1="1026" x2="135" y2="1015" stroke="#0a0a0a" stroke-width="1.6"/>
<line x1="91" y1="1008" x2="91" y2="1030" stroke="rgba(20,10,10,0.6)" stroke-width="1"/>
<line x1="129.5" y1="1008" x2="129.5" y2="1030" stroke="rgba(20,10,10,0.6)" stroke-width="1"/>
<rect x="93.86" y="1000.56" width="32.29" height="12.88" fill="#fff" stroke="none" stroke-width="1"/>
<text x="110" y="1011.12" font-size="11.5" text-anchor="middle" fill="#111">3' - 5"</text>
<rect x="282.56" y="1025.88" width="12.88" height="20.25" fill="#fff" stroke="none" stroke-width="1"/>
<text x="289" y="1040.12" font-size="11.5" text-anchor="middle" fill="#111" transform="rotate(-90 289 1036)">W2</text>
<rect x="326.06" y="1025.88" width="12.88" height="20.25" fill="#fff" stroke="none" stroke-width="1"/>
<text x="332.5" y="1040.12" font-size="11.5" text-anchor="middle" fill="#111" transform="rotate(-90 332.5 1036)">W2</text>
<rect x="390.56" y="1019.38" width="12.88" height="20.25" fill="#fff" stroke="none" stroke-width="1"/>
<text x="397" y="1033.62" font-size="11.5" text-anchor="middle" fill="#111" transform="rotate(-90 397 1029.5)">W1</text>
<line x1="257.5" y1="1064.5" x2="315" y2="1064.5" stroke="rgba(10,5,5,0.72)" stroke-width="1"/>
<line x1="262.5" y1="1070" x2="273.5" y2="1059" stroke="#0a0a0a" stroke-width="1.6"/>
<line x1="300.5" y1="1070" x2="311.5" y2="1059" stroke="#0a0a0a" stroke-width="1.6"/>
<line x1="352.5" y1="1064.5" x2="436" y2="1064.5" stroke="rgba(10,5,5,0.72)" stroke-width="1"/>
<line x1="352.5" y1="1070" x2="363.5" y2="1059" stroke="#0a0a0a" stroke-width="1.6"/>
<line x1="357" y1="1070" x2="368" y2="1059" stroke="#0a0a0a" stroke-width="1.6"/>
<line x1="420.5" y1="1070" x2="431.5" y2="1059" stroke="#0a0a0a" stroke-width="1.6"/>
<line x1="299" y1="1060.5" x2="366" y2="1060.5" stroke="rgba(10,5,5,0.72)" stroke-width="1"/>
<line x1="303.5" y1="1066" x2="314.5" y2="1055" stroke="#0a0a0a" stroke-width="1.6"/>
<line x1="350.5" y1="1066" x2="361.5" y2="1055" stroke="#0a0a0a" stroke-width="1.6"/>
<line x1="268" y1="1046" x2="268" y2="1074" stroke="#777" stroke-width="1.4"/>
<line x1="305" y1="1046" x2="305" y2="1074" stroke="#777" stroke-width="1.4"/>
<line x1="309.5" y1="1046" x2="309.5" y2="1074" stroke="#777" stroke-width="1.4"/>
<line x1="360.5" y1="1046" x2="360.5" y2="1074" stroke="#777" stroke-width="1.4"/>
<line x1="426" y1="1046" x2="426" y2="1074" stroke="#777" stroke-width="1.4"/>
<text x="286" y="1055.12" font-size="11.5" text-anchor="middle" fill="#111">3' - 5"</text>
<text x="327" y="1050.62" font-size="11.5" text-anchor="middle" fill="#111">4'</text>
<text x="340" y="1055.12" font-size="11.5" text-anchor="middle" fill="#111">3"</text>
<text x="392.5" y="1056.12" font-size="11.5" text-anchor="middle" fill="#111">6' - 1"</text>
<text x="493" y="1058.12" font-size="11.5" text-anchor="middle" fill="#111" transform="rotate(-90 493 1054)">W</text>
<rect x="535" y="794" width="15" height="23" fill="#fff" stroke="none" stroke-width="1"/>
<text x="542.5" y="812.66" font-size="20" text-anchor="middle" fill="#111">A</text>
<rect x="573" y="785" width="15" height="21" fill="#fff" stroke="none" stroke-width="1"/>
<text x="580.5" y="802.66" font-size="20" text-anchor="middle" fill="#111">B</text>
<rect x="888" y="807.25" width="15" height="21.5" fill="#fff" stroke="none" stroke-width="1"/>
<text x="895.5" y="825.16" font-size="20" text-anchor="middle" fill="#111">C</text>
<rect x="969" y="836.25" width="15" height="16.5" fill="#fff" stroke="none" stroke-width="1"/>
<text x="976.5" y="850.23" font-size="16" text-anchor="middle" fill="#111">E</text>
<rect x="1053" y="826.5" width="15" height="23" fill="#fff" stroke="none" stroke-width="1"/>
<text x="1060.5" y="845.16" font-size="20" text-anchor="middle" fill="#111">D</text>
<rect x="276" y="893" width="13" height="16" fill="#fff" stroke="none" stroke-width="1"/>
<text x="282.5" y="907.26" font-size="17.5" text-anchor="middle" fill="#111">A</text>
</svg>
</body></html>
